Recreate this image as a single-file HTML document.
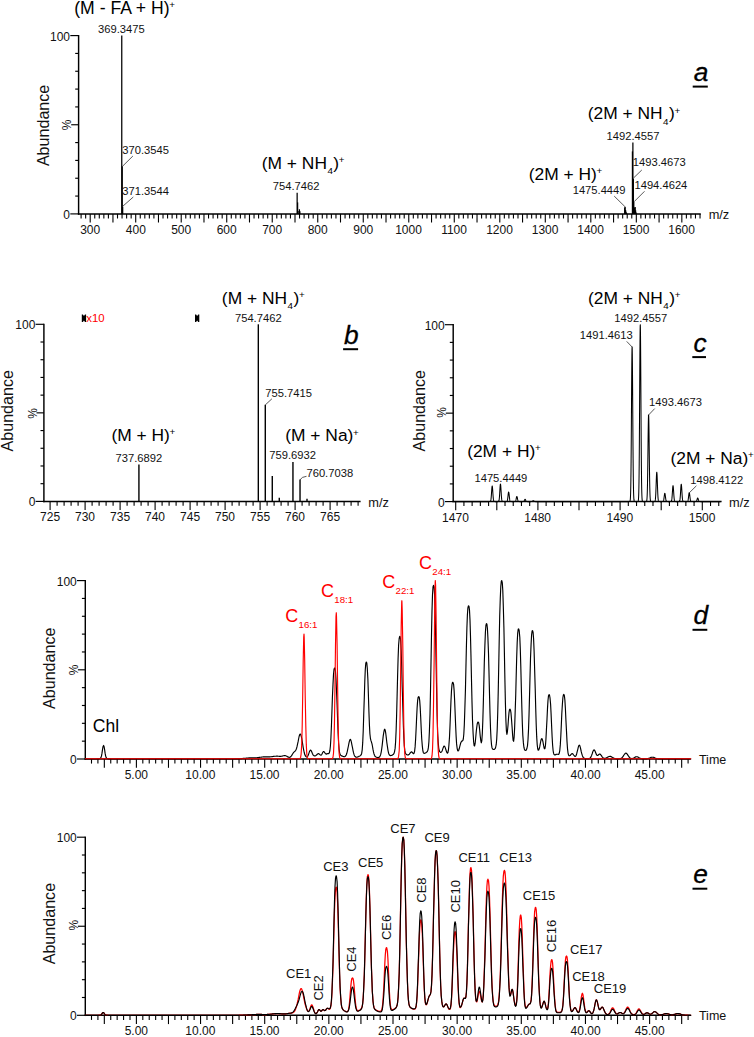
<!DOCTYPE html>
<html><head><meta charset="utf-8"><style>
html,body{margin:0;padding:0;background:#fff;}
svg{display:block;font-family:"Liberation Sans", sans-serif;}
</style></head><body>
<svg width="754" height="1037" viewBox="0 0 754 1037">
<rect width="754" height="1037" fill="#fff"/>
<line x1="78.6" y1="35" x2="78.6" y2="214.65" stroke="#000" stroke-width="1.45"/>
<line x1="70.3" y1="213.9" x2="78.6" y2="213.9" stroke="#000" stroke-width="1.15"/>
<line x1="75.2" y1="196.07" x2="78.6" y2="196.07" stroke="#000" stroke-width="1.15"/>
<line x1="75.2" y1="178.24" x2="78.6" y2="178.24" stroke="#000" stroke-width="1.15"/>
<line x1="75.2" y1="160.41" x2="78.6" y2="160.41" stroke="#000" stroke-width="1.15"/>
<line x1="75.2" y1="142.58" x2="78.6" y2="142.58" stroke="#000" stroke-width="1.15"/>
<line x1="71.2" y1="124.75" x2="78.6" y2="124.75" stroke="#000" stroke-width="1.15"/>
<line x1="75.2" y1="106.92" x2="78.6" y2="106.92" stroke="#000" stroke-width="1.15"/>
<line x1="75.2" y1="89.09" x2="78.6" y2="89.09" stroke="#000" stroke-width="1.15"/>
<line x1="75.2" y1="71.26" x2="78.6" y2="71.26" stroke="#000" stroke-width="1.15"/>
<line x1="75.2" y1="53.43" x2="78.6" y2="53.43" stroke="#000" stroke-width="1.15"/>
<line x1="70.3" y1="35.6" x2="78.6" y2="35.6" stroke="#000" stroke-width="1.15"/>
<text x="70.06" y="40.5" font-size="12" text-anchor="end" fill="#111" >100</text>
<text x="70.03" y="218.8" font-size="12" text-anchor="end" fill="#111" >0</text>
<text transform="translate(70.9,130.34) rotate(-90)" x="0" y="0" font-size="12" fill="#111">%</text>
<text transform="translate(49.1,166.12) rotate(-90)" x="0" y="0" font-size="16.1" fill="#111">Abundance</text>
<line x1="77.9" y1="213.9" x2="700.8" y2="213.9" stroke="#000" stroke-width="1.5"/>
<line x1="81.1" y1="213.9" x2="81.1" y2="218.5" stroke="#000" stroke-width="1.1"/>
<line x1="85.65" y1="213.9" x2="85.65" y2="218.5" stroke="#000" stroke-width="1.1"/>
<line x1="90.2" y1="213.9" x2="90.2" y2="222.5" stroke="#000" stroke-width="1.1"/>
<line x1="94.75" y1="213.9" x2="94.75" y2="218.5" stroke="#000" stroke-width="1.1"/>
<line x1="99.3" y1="213.9" x2="99.3" y2="218.5" stroke="#000" stroke-width="1.1"/>
<line x1="103.85" y1="213.9" x2="103.85" y2="218.5" stroke="#000" stroke-width="1.1"/>
<line x1="108.4" y1="213.9" x2="108.4" y2="218.5" stroke="#000" stroke-width="1.1"/>
<line x1="112.95" y1="213.9" x2="112.95" y2="222.5" stroke="#000" stroke-width="1.1"/>
<line x1="117.51" y1="213.9" x2="117.51" y2="218.5" stroke="#000" stroke-width="1.1"/>
<line x1="122.06" y1="213.9" x2="122.06" y2="218.5" stroke="#000" stroke-width="1.1"/>
<line x1="126.61" y1="213.9" x2="126.61" y2="218.5" stroke="#000" stroke-width="1.1"/>
<line x1="131.16" y1="213.9" x2="131.16" y2="218.5" stroke="#000" stroke-width="1.1"/>
<line x1="135.71" y1="213.9" x2="135.71" y2="222.5" stroke="#000" stroke-width="1.1"/>
<line x1="140.26" y1="213.9" x2="140.26" y2="218.5" stroke="#000" stroke-width="1.1"/>
<line x1="144.81" y1="213.9" x2="144.81" y2="218.5" stroke="#000" stroke-width="1.1"/>
<line x1="149.36" y1="213.9" x2="149.36" y2="218.5" stroke="#000" stroke-width="1.1"/>
<line x1="153.91" y1="213.9" x2="153.91" y2="218.5" stroke="#000" stroke-width="1.1"/>
<line x1="158.47" y1="213.9" x2="158.47" y2="222.5" stroke="#000" stroke-width="1.1"/>
<line x1="163.02" y1="213.9" x2="163.02" y2="218.5" stroke="#000" stroke-width="1.1"/>
<line x1="167.57" y1="213.9" x2="167.57" y2="218.5" stroke="#000" stroke-width="1.1"/>
<line x1="172.12" y1="213.9" x2="172.12" y2="218.5" stroke="#000" stroke-width="1.1"/>
<line x1="176.67" y1="213.9" x2="176.67" y2="218.5" stroke="#000" stroke-width="1.1"/>
<line x1="181.22" y1="213.9" x2="181.22" y2="222.5" stroke="#000" stroke-width="1.1"/>
<line x1="185.77" y1="213.9" x2="185.77" y2="218.5" stroke="#000" stroke-width="1.1"/>
<line x1="190.32" y1="213.9" x2="190.32" y2="218.5" stroke="#000" stroke-width="1.1"/>
<line x1="194.87" y1="213.9" x2="194.87" y2="218.5" stroke="#000" stroke-width="1.1"/>
<line x1="199.42" y1="213.9" x2="199.42" y2="218.5" stroke="#000" stroke-width="1.1"/>
<line x1="203.98" y1="213.9" x2="203.98" y2="222.5" stroke="#000" stroke-width="1.1"/>
<line x1="208.53" y1="213.9" x2="208.53" y2="218.5" stroke="#000" stroke-width="1.1"/>
<line x1="213.08" y1="213.9" x2="213.08" y2="218.5" stroke="#000" stroke-width="1.1"/>
<line x1="217.63" y1="213.9" x2="217.63" y2="218.5" stroke="#000" stroke-width="1.1"/>
<line x1="222.18" y1="213.9" x2="222.18" y2="218.5" stroke="#000" stroke-width="1.1"/>
<line x1="226.73" y1="213.9" x2="226.73" y2="222.5" stroke="#000" stroke-width="1.1"/>
<line x1="231.28" y1="213.9" x2="231.28" y2="218.5" stroke="#000" stroke-width="1.1"/>
<line x1="235.83" y1="213.9" x2="235.83" y2="218.5" stroke="#000" stroke-width="1.1"/>
<line x1="240.38" y1="213.9" x2="240.38" y2="218.5" stroke="#000" stroke-width="1.1"/>
<line x1="244.93" y1="213.9" x2="244.93" y2="218.5" stroke="#000" stroke-width="1.1"/>
<line x1="249.49" y1="213.9" x2="249.49" y2="222.5" stroke="#000" stroke-width="1.1"/>
<line x1="254.04" y1="213.9" x2="254.04" y2="218.5" stroke="#000" stroke-width="1.1"/>
<line x1="258.59" y1="213.9" x2="258.59" y2="218.5" stroke="#000" stroke-width="1.1"/>
<line x1="263.14" y1="213.9" x2="263.14" y2="218.5" stroke="#000" stroke-width="1.1"/>
<line x1="267.69" y1="213.9" x2="267.69" y2="218.5" stroke="#000" stroke-width="1.1"/>
<line x1="272.24" y1="213.9" x2="272.24" y2="222.5" stroke="#000" stroke-width="1.1"/>
<line x1="276.79" y1="213.9" x2="276.79" y2="218.5" stroke="#000" stroke-width="1.1"/>
<line x1="281.34" y1="213.9" x2="281.34" y2="218.5" stroke="#000" stroke-width="1.1"/>
<line x1="285.89" y1="213.9" x2="285.89" y2="218.5" stroke="#000" stroke-width="1.1"/>
<line x1="290.44" y1="213.9" x2="290.44" y2="218.5" stroke="#000" stroke-width="1.1"/>
<line x1="295" y1="213.9" x2="295" y2="222.5" stroke="#000" stroke-width="1.1"/>
<line x1="299.55" y1="213.9" x2="299.55" y2="218.5" stroke="#000" stroke-width="1.1"/>
<line x1="304.1" y1="213.9" x2="304.1" y2="218.5" stroke="#000" stroke-width="1.1"/>
<line x1="308.65" y1="213.9" x2="308.65" y2="218.5" stroke="#000" stroke-width="1.1"/>
<line x1="313.2" y1="213.9" x2="313.2" y2="218.5" stroke="#000" stroke-width="1.1"/>
<line x1="317.75" y1="213.9" x2="317.75" y2="222.5" stroke="#000" stroke-width="1.1"/>
<line x1="322.3" y1="213.9" x2="322.3" y2="218.5" stroke="#000" stroke-width="1.1"/>
<line x1="326.85" y1="213.9" x2="326.85" y2="218.5" stroke="#000" stroke-width="1.1"/>
<line x1="331.4" y1="213.9" x2="331.4" y2="218.5" stroke="#000" stroke-width="1.1"/>
<line x1="335.95" y1="213.9" x2="335.95" y2="218.5" stroke="#000" stroke-width="1.1"/>
<line x1="340.5" y1="213.9" x2="340.5" y2="222.5" stroke="#000" stroke-width="1.1"/>
<line x1="345.06" y1="213.9" x2="345.06" y2="218.5" stroke="#000" stroke-width="1.1"/>
<line x1="349.61" y1="213.9" x2="349.61" y2="218.5" stroke="#000" stroke-width="1.1"/>
<line x1="354.16" y1="213.9" x2="354.16" y2="218.5" stroke="#000" stroke-width="1.1"/>
<line x1="358.71" y1="213.9" x2="358.71" y2="218.5" stroke="#000" stroke-width="1.1"/>
<line x1="363.26" y1="213.9" x2="363.26" y2="222.5" stroke="#000" stroke-width="1.1"/>
<line x1="367.81" y1="213.9" x2="367.81" y2="218.5" stroke="#000" stroke-width="1.1"/>
<line x1="372.36" y1="213.9" x2="372.36" y2="218.5" stroke="#000" stroke-width="1.1"/>
<line x1="376.91" y1="213.9" x2="376.91" y2="218.5" stroke="#000" stroke-width="1.1"/>
<line x1="381.46" y1="213.9" x2="381.46" y2="218.5" stroke="#000" stroke-width="1.1"/>
<line x1="386.01" y1="213.9" x2="386.01" y2="222.5" stroke="#000" stroke-width="1.1"/>
<line x1="390.57" y1="213.9" x2="390.57" y2="218.5" stroke="#000" stroke-width="1.1"/>
<line x1="395.12" y1="213.9" x2="395.12" y2="218.5" stroke="#000" stroke-width="1.1"/>
<line x1="399.67" y1="213.9" x2="399.67" y2="218.5" stroke="#000" stroke-width="1.1"/>
<line x1="404.22" y1="213.9" x2="404.22" y2="218.5" stroke="#000" stroke-width="1.1"/>
<line x1="408.77" y1="213.9" x2="408.77" y2="222.5" stroke="#000" stroke-width="1.1"/>
<line x1="413.32" y1="213.9" x2="413.32" y2="218.5" stroke="#000" stroke-width="1.1"/>
<line x1="417.87" y1="213.9" x2="417.87" y2="218.5" stroke="#000" stroke-width="1.1"/>
<line x1="422.42" y1="213.9" x2="422.42" y2="218.5" stroke="#000" stroke-width="1.1"/>
<line x1="426.97" y1="213.9" x2="426.97" y2="218.5" stroke="#000" stroke-width="1.1"/>
<line x1="431.52" y1="213.9" x2="431.52" y2="222.5" stroke="#000" stroke-width="1.1"/>
<line x1="436.08" y1="213.9" x2="436.08" y2="218.5" stroke="#000" stroke-width="1.1"/>
<line x1="440.63" y1="213.9" x2="440.63" y2="218.5" stroke="#000" stroke-width="1.1"/>
<line x1="445.18" y1="213.9" x2="445.18" y2="218.5" stroke="#000" stroke-width="1.1"/>
<line x1="449.73" y1="213.9" x2="449.73" y2="218.5" stroke="#000" stroke-width="1.1"/>
<line x1="454.28" y1="213.9" x2="454.28" y2="222.5" stroke="#000" stroke-width="1.1"/>
<line x1="458.83" y1="213.9" x2="458.83" y2="218.5" stroke="#000" stroke-width="1.1"/>
<line x1="463.38" y1="213.9" x2="463.38" y2="218.5" stroke="#000" stroke-width="1.1"/>
<line x1="467.93" y1="213.9" x2="467.93" y2="218.5" stroke="#000" stroke-width="1.1"/>
<line x1="472.48" y1="213.9" x2="472.48" y2="218.5" stroke="#000" stroke-width="1.1"/>
<line x1="477.03" y1="213.9" x2="477.03" y2="222.5" stroke="#000" stroke-width="1.1"/>
<line x1="481.59" y1="213.9" x2="481.59" y2="218.5" stroke="#000" stroke-width="1.1"/>
<line x1="486.14" y1="213.9" x2="486.14" y2="218.5" stroke="#000" stroke-width="1.1"/>
<line x1="490.69" y1="213.9" x2="490.69" y2="218.5" stroke="#000" stroke-width="1.1"/>
<line x1="495.24" y1="213.9" x2="495.24" y2="218.5" stroke="#000" stroke-width="1.1"/>
<line x1="499.79" y1="213.9" x2="499.79" y2="222.5" stroke="#000" stroke-width="1.1"/>
<line x1="504.34" y1="213.9" x2="504.34" y2="218.5" stroke="#000" stroke-width="1.1"/>
<line x1="508.89" y1="213.9" x2="508.89" y2="218.5" stroke="#000" stroke-width="1.1"/>
<line x1="513.44" y1="213.9" x2="513.44" y2="218.5" stroke="#000" stroke-width="1.1"/>
<line x1="517.99" y1="213.9" x2="517.99" y2="218.5" stroke="#000" stroke-width="1.1"/>
<line x1="522.55" y1="213.9" x2="522.55" y2="222.5" stroke="#000" stroke-width="1.1"/>
<line x1="527.1" y1="213.9" x2="527.1" y2="218.5" stroke="#000" stroke-width="1.1"/>
<line x1="531.65" y1="213.9" x2="531.65" y2="218.5" stroke="#000" stroke-width="1.1"/>
<line x1="536.2" y1="213.9" x2="536.2" y2="218.5" stroke="#000" stroke-width="1.1"/>
<line x1="540.75" y1="213.9" x2="540.75" y2="218.5" stroke="#000" stroke-width="1.1"/>
<line x1="545.3" y1="213.9" x2="545.3" y2="222.5" stroke="#000" stroke-width="1.1"/>
<line x1="549.85" y1="213.9" x2="549.85" y2="218.5" stroke="#000" stroke-width="1.1"/>
<line x1="554.4" y1="213.9" x2="554.4" y2="218.5" stroke="#000" stroke-width="1.1"/>
<line x1="558.95" y1="213.9" x2="558.95" y2="218.5" stroke="#000" stroke-width="1.1"/>
<line x1="563.5" y1="213.9" x2="563.5" y2="218.5" stroke="#000" stroke-width="1.1"/>
<line x1="568.06" y1="213.9" x2="568.06" y2="222.5" stroke="#000" stroke-width="1.1"/>
<line x1="572.61" y1="213.9" x2="572.61" y2="218.5" stroke="#000" stroke-width="1.1"/>
<line x1="577.16" y1="213.9" x2="577.16" y2="218.5" stroke="#000" stroke-width="1.1"/>
<line x1="581.71" y1="213.9" x2="581.71" y2="218.5" stroke="#000" stroke-width="1.1"/>
<line x1="586.26" y1="213.9" x2="586.26" y2="218.5" stroke="#000" stroke-width="1.1"/>
<line x1="590.81" y1="213.9" x2="590.81" y2="222.5" stroke="#000" stroke-width="1.1"/>
<line x1="595.36" y1="213.9" x2="595.36" y2="218.5" stroke="#000" stroke-width="1.1"/>
<line x1="599.91" y1="213.9" x2="599.91" y2="218.5" stroke="#000" stroke-width="1.1"/>
<line x1="604.46" y1="213.9" x2="604.46" y2="218.5" stroke="#000" stroke-width="1.1"/>
<line x1="609.01" y1="213.9" x2="609.01" y2="218.5" stroke="#000" stroke-width="1.1"/>
<line x1="613.57" y1="213.9" x2="613.57" y2="222.5" stroke="#000" stroke-width="1.1"/>
<line x1="618.12" y1="213.9" x2="618.12" y2="218.5" stroke="#000" stroke-width="1.1"/>
<line x1="622.67" y1="213.9" x2="622.67" y2="218.5" stroke="#000" stroke-width="1.1"/>
<line x1="627.22" y1="213.9" x2="627.22" y2="218.5" stroke="#000" stroke-width="1.1"/>
<line x1="631.77" y1="213.9" x2="631.77" y2="218.5" stroke="#000" stroke-width="1.1"/>
<line x1="636.32" y1="213.9" x2="636.32" y2="222.5" stroke="#000" stroke-width="1.1"/>
<line x1="640.87" y1="213.9" x2="640.87" y2="218.5" stroke="#000" stroke-width="1.1"/>
<line x1="645.42" y1="213.9" x2="645.42" y2="218.5" stroke="#000" stroke-width="1.1"/>
<line x1="649.97" y1="213.9" x2="649.97" y2="218.5" stroke="#000" stroke-width="1.1"/>
<line x1="654.52" y1="213.9" x2="654.52" y2="218.5" stroke="#000" stroke-width="1.1"/>
<line x1="659.08" y1="213.9" x2="659.08" y2="222.5" stroke="#000" stroke-width="1.1"/>
<line x1="663.63" y1="213.9" x2="663.63" y2="218.5" stroke="#000" stroke-width="1.1"/>
<line x1="668.18" y1="213.9" x2="668.18" y2="218.5" stroke="#000" stroke-width="1.1"/>
<line x1="672.73" y1="213.9" x2="672.73" y2="218.5" stroke="#000" stroke-width="1.1"/>
<line x1="677.28" y1="213.9" x2="677.28" y2="218.5" stroke="#000" stroke-width="1.1"/>
<line x1="681.83" y1="213.9" x2="681.83" y2="222.5" stroke="#000" stroke-width="1.1"/>
<line x1="686.38" y1="213.9" x2="686.38" y2="218.5" stroke="#000" stroke-width="1.1"/>
<line x1="690.93" y1="213.9" x2="690.93" y2="218.5" stroke="#000" stroke-width="1.1"/>
<line x1="695.48" y1="213.9" x2="695.48" y2="218.5" stroke="#000" stroke-width="1.1"/>
<line x1="700.03" y1="213.9" x2="700.03" y2="218.5" stroke="#000" stroke-width="1.1"/>
<text x="80.18" y="233.9" font-size="12" text-anchor="start" fill="#111" >300</text>
<text x="125.81" y="233.9" font-size="12" text-anchor="start" fill="#111" >400</text>
<text x="171.2" y="233.9" font-size="12" text-anchor="start" fill="#111" >500</text>
<text x="216.65" y="233.9" font-size="12" text-anchor="start" fill="#111" >600</text>
<text x="262.16" y="233.9" font-size="12" text-anchor="start" fill="#111" >700</text>
<text x="307.7" y="233.9" font-size="12" text-anchor="start" fill="#111" >800</text>
<text x="353.21" y="233.9" font-size="12" text-anchor="start" fill="#111" >900</text>
<text x="395.18" y="233.9" font-size="12" text-anchor="start" fill="#111" >1000</text>
<text x="441.14" y="233.9" font-size="12" text-anchor="start" fill="#111" >1100</text>
<text x="486.2" y="233.9" font-size="12" text-anchor="start" fill="#111" >1200</text>
<text x="531.71" y="233.9" font-size="12" text-anchor="start" fill="#111" >1300</text>
<text x="577.22" y="233.9" font-size="12" text-anchor="start" fill="#111" >1400</text>
<text x="622.73" y="233.9" font-size="12" text-anchor="start" fill="#111" >1500</text>
<text x="668.24" y="233.9" font-size="12" text-anchor="start" fill="#111" >1600</text>
<text x="708.67" y="218.9" font-size="12.8" text-anchor="start" fill="#111" >m/z</text>
<line x1="121.76" y1="213.9" x2="121.76" y2="35.6" stroke="#000" stroke-width="1.25"/>
<line x1="122.22" y1="213.9" x2="122.22" y2="166.29" stroke="#000" stroke-width="1.25"/>
<line x1="122.67" y1="213.9" x2="122.67" y2="206.77" stroke="#000" stroke-width="1.25"/>
<line x1="297.15" y1="213.9" x2="297.15" y2="192.86" stroke="#000" stroke-width="1.25"/>
<line x1="297.61" y1="213.9" x2="297.61" y2="202.41" stroke="#000" stroke-width="1.25"/>
<line x1="298.06" y1="213.9" x2="298.06" y2="210.89" stroke="#000" stroke-width="1.25"/>
<line x1="299.41" y1="213.9" x2="299.41" y2="209.23" stroke="#000" stroke-width="1.25"/>
<line x1="299.87" y1="213.9" x2="299.87" y2="211.29" stroke="#000" stroke-width="1.25"/>
<line x1="624.69" y1="213.9" x2="624.69" y2="207.61" stroke="#000" stroke-width="1.25"/>
<line x1="625.14" y1="213.9" x2="625.14" y2="206.82" stroke="#000" stroke-width="1.25"/>
<line x1="625.6" y1="213.9" x2="625.6" y2="210.04" stroke="#000" stroke-width="1.25"/>
<line x1="626.05" y1="213.9" x2="626.05" y2="211.83" stroke="#000" stroke-width="1.25"/>
<line x1="626.51" y1="213.9" x2="626.51" y2="212.97" stroke="#000" stroke-width="1.25"/>
<line x1="632.43" y1="213.9" x2="632.43" y2="151.41" stroke="#000" stroke-width="1.25"/>
<line x1="632.89" y1="213.9" x2="632.89" y2="142.4" stroke="#000" stroke-width="1.25"/>
<line x1="633.35" y1="213.9" x2="633.35" y2="178.87" stroke="#000" stroke-width="1.25"/>
<line x1="633.8" y1="213.9" x2="633.8" y2="202.03" stroke="#000" stroke-width="1.25"/>
<line x1="634.24" y1="213.9" x2="634.24" y2="210.54" stroke="#000" stroke-width="1.25"/>
<line x1="634.7" y1="213.9" x2="634.7" y2="207.47" stroke="#000" stroke-width="1.25"/>
<line x1="635.15" y1="213.9" x2="635.15" y2="206.89" stroke="#000" stroke-width="1.25"/>
<line x1="635.6" y1="213.9" x2="635.6" y2="210.33" stroke="#000" stroke-width="1.25"/>
<line x1="636.07" y1="213.9" x2="636.07" y2="212.47" stroke="#000" stroke-width="1.25"/>
<text x="98.05" y="33.3" font-size="11.2" text-anchor="start" fill="#111" >369.3475</text>
<text x="122.35" y="153.6" font-size="11.2" text-anchor="start" fill="#111" >370.3545</text>
<line x1="122.6" y1="166.2" x2="132.9" y2="156" stroke="#222" stroke-width="0.75"/>
<text x="122.35" y="194.7" font-size="11.2" text-anchor="start" fill="#111" >371.3544</text>
<line x1="122.6" y1="206.4" x2="133.3" y2="197" stroke="#222" stroke-width="0.75"/>
<text x="272.84" y="190.2" font-size="11.2" text-anchor="start" fill="#111" >754.7462</text>
<text x="606.56" y="139.8" font-size="11.2" text-anchor="start" fill="#111" >1492.4557</text>
<text x="632.86" y="166" font-size="11.2" text-anchor="start" fill="#111" >1493.4673</text>
<line x1="633.5" y1="178" x2="641.8" y2="170" stroke="#222" stroke-width="0.75"/>
<text x="634.46" y="189.1" font-size="11.2" text-anchor="start" fill="#111" >1494.4624</text>
<line x1="634" y1="201.8" x2="644.5" y2="191.3" stroke="#222" stroke-width="0.75"/>
<text x="572.66" y="193.9" font-size="11.2" text-anchor="start" fill="#111" >1475.4449</text>
<line x1="614.2" y1="196.1" x2="624.9" y2="206.6" stroke="#222" stroke-width="0.75"/>
<text x="74.24" y="13.75" font-size="17.6" fill="#000" xml:space="preserve">(M - FA + H)<tspan font-size="9.8" dx="-0.3" dy="-5.8">+</tspan></text>
<text x="261.76" y="168.8" font-size="17.4" fill="#000" xml:space="preserve">(M + NH<tspan font-size="9.8" dx="0.4" dy="5.6">4</tspan><tspan dx="0.5" dy="-5.6">)</tspan><tspan font-size="9.8" dx="-0.3" dy="-5.8">+</tspan></text>
<text x="587.76" y="119.4" font-size="17.4" fill="#000" xml:space="preserve">(2M + NH<tspan font-size="9.8" dx="0.4" dy="5.6">4</tspan><tspan dx="0.5" dy="-5.6">)</tspan><tspan font-size="9.8" dx="-0.3" dy="-5.8">+</tspan></text>
<text x="528.76" y="179.8" font-size="17.4" fill="#000" xml:space="preserve">(2M + H)<tspan font-size="9.8" dx="-0.3" dy="-5.8">+</tspan></text>
<text x="693.77" y="80.6" font-size="26.3" font-style="italic" fill="#000" stroke="#000" stroke-width="0.3">a</text>
<line x1="692.7" y1="86.6" x2="707.8" y2="86.6" stroke="#000" stroke-width="2.0"/>
<line x1="43.9" y1="323.7" x2="43.9" y2="502.15" stroke="#000" stroke-width="1.45"/>
<line x1="35.6" y1="501.4" x2="43.9" y2="501.4" stroke="#000" stroke-width="1.15"/>
<line x1="40.5" y1="483.69" x2="43.9" y2="483.69" stroke="#000" stroke-width="1.15"/>
<line x1="40.5" y1="465.98" x2="43.9" y2="465.98" stroke="#000" stroke-width="1.15"/>
<line x1="40.5" y1="448.27" x2="43.9" y2="448.27" stroke="#000" stroke-width="1.15"/>
<line x1="40.5" y1="430.56" x2="43.9" y2="430.56" stroke="#000" stroke-width="1.15"/>
<line x1="36.5" y1="412.85" x2="43.9" y2="412.85" stroke="#000" stroke-width="1.15"/>
<line x1="40.5" y1="395.14" x2="43.9" y2="395.14" stroke="#000" stroke-width="1.15"/>
<line x1="40.5" y1="377.43" x2="43.9" y2="377.43" stroke="#000" stroke-width="1.15"/>
<line x1="40.5" y1="359.72" x2="43.9" y2="359.72" stroke="#000" stroke-width="1.15"/>
<line x1="40.5" y1="342.01" x2="43.9" y2="342.01" stroke="#000" stroke-width="1.15"/>
<line x1="35.6" y1="324.3" x2="43.9" y2="324.3" stroke="#000" stroke-width="1.15"/>
<text x="35.36" y="329.2" font-size="12" text-anchor="end" fill="#111" >100</text>
<text x="35.33" y="506.3" font-size="12" text-anchor="end" fill="#111" >0</text>
<text transform="translate(37,418.64) rotate(-90)" x="0" y="0" font-size="12" fill="#111">%</text>
<text transform="translate(13.2,451.47) rotate(-90)" x="0" y="0" font-size="16.1" fill="#111">Abundance</text>
<line x1="43.2" y1="501.4" x2="360.6" y2="501.4" stroke="#000" stroke-width="1.5"/>
<line x1="50.1" y1="501.4" x2="50.1" y2="510" stroke="#000" stroke-width="1.1"/>
<line x1="57.1" y1="501.4" x2="57.1" y2="505.8" stroke="#000" stroke-width="1.1"/>
<line x1="64.1" y1="501.4" x2="64.1" y2="505.8" stroke="#000" stroke-width="1.1"/>
<line x1="71.1" y1="501.4" x2="71.1" y2="505.8" stroke="#000" stroke-width="1.1"/>
<line x1="78.1" y1="501.4" x2="78.1" y2="505.8" stroke="#000" stroke-width="1.1"/>
<line x1="85.1" y1="501.4" x2="85.1" y2="510" stroke="#000" stroke-width="1.1"/>
<line x1="92.1" y1="501.4" x2="92.1" y2="505.8" stroke="#000" stroke-width="1.1"/>
<line x1="99.1" y1="501.4" x2="99.1" y2="505.8" stroke="#000" stroke-width="1.1"/>
<line x1="106.1" y1="501.4" x2="106.1" y2="505.8" stroke="#000" stroke-width="1.1"/>
<line x1="113.1" y1="501.4" x2="113.1" y2="505.8" stroke="#000" stroke-width="1.1"/>
<line x1="120.1" y1="501.4" x2="120.1" y2="510" stroke="#000" stroke-width="1.1"/>
<line x1="127.1" y1="501.4" x2="127.1" y2="505.8" stroke="#000" stroke-width="1.1"/>
<line x1="134.1" y1="501.4" x2="134.1" y2="505.8" stroke="#000" stroke-width="1.1"/>
<line x1="141.1" y1="501.4" x2="141.1" y2="505.8" stroke="#000" stroke-width="1.1"/>
<line x1="148.1" y1="501.4" x2="148.1" y2="505.8" stroke="#000" stroke-width="1.1"/>
<line x1="155.1" y1="501.4" x2="155.1" y2="510" stroke="#000" stroke-width="1.1"/>
<line x1="162.1" y1="501.4" x2="162.1" y2="505.8" stroke="#000" stroke-width="1.1"/>
<line x1="169.1" y1="501.4" x2="169.1" y2="505.8" stroke="#000" stroke-width="1.1"/>
<line x1="176.1" y1="501.4" x2="176.1" y2="505.8" stroke="#000" stroke-width="1.1"/>
<line x1="183.1" y1="501.4" x2="183.1" y2="505.8" stroke="#000" stroke-width="1.1"/>
<line x1="190.1" y1="501.4" x2="190.1" y2="510" stroke="#000" stroke-width="1.1"/>
<line x1="197.1" y1="501.4" x2="197.1" y2="505.8" stroke="#000" stroke-width="1.1"/>
<line x1="204.1" y1="501.4" x2="204.1" y2="505.8" stroke="#000" stroke-width="1.1"/>
<line x1="211.1" y1="501.4" x2="211.1" y2="505.8" stroke="#000" stroke-width="1.1"/>
<line x1="218.1" y1="501.4" x2="218.1" y2="505.8" stroke="#000" stroke-width="1.1"/>
<line x1="225.1" y1="501.4" x2="225.1" y2="510" stroke="#000" stroke-width="1.1"/>
<line x1="232.1" y1="501.4" x2="232.1" y2="505.8" stroke="#000" stroke-width="1.1"/>
<line x1="239.1" y1="501.4" x2="239.1" y2="505.8" stroke="#000" stroke-width="1.1"/>
<line x1="246.1" y1="501.4" x2="246.1" y2="505.8" stroke="#000" stroke-width="1.1"/>
<line x1="253.1" y1="501.4" x2="253.1" y2="505.8" stroke="#000" stroke-width="1.1"/>
<line x1="260.1" y1="501.4" x2="260.1" y2="510" stroke="#000" stroke-width="1.1"/>
<line x1="267.1" y1="501.4" x2="267.1" y2="505.8" stroke="#000" stroke-width="1.1"/>
<line x1="274.1" y1="501.4" x2="274.1" y2="505.8" stroke="#000" stroke-width="1.1"/>
<line x1="281.1" y1="501.4" x2="281.1" y2="505.8" stroke="#000" stroke-width="1.1"/>
<line x1="288.1" y1="501.4" x2="288.1" y2="505.8" stroke="#000" stroke-width="1.1"/>
<line x1="295.1" y1="501.4" x2="295.1" y2="510" stroke="#000" stroke-width="1.1"/>
<line x1="302.1" y1="501.4" x2="302.1" y2="505.8" stroke="#000" stroke-width="1.1"/>
<line x1="309.1" y1="501.4" x2="309.1" y2="505.8" stroke="#000" stroke-width="1.1"/>
<line x1="316.1" y1="501.4" x2="316.1" y2="505.8" stroke="#000" stroke-width="1.1"/>
<line x1="323.1" y1="501.4" x2="323.1" y2="505.8" stroke="#000" stroke-width="1.1"/>
<line x1="330.1" y1="501.4" x2="330.1" y2="510" stroke="#000" stroke-width="1.1"/>
<line x1="337.1" y1="501.4" x2="337.1" y2="505.8" stroke="#000" stroke-width="1.1"/>
<line x1="344.1" y1="501.4" x2="344.1" y2="505.8" stroke="#000" stroke-width="1.1"/>
<line x1="351.1" y1="501.4" x2="351.1" y2="505.8" stroke="#000" stroke-width="1.1"/>
<line x1="358.1" y1="501.4" x2="358.1" y2="505.8" stroke="#000" stroke-width="1.1"/>
<text x="40.05" y="521.4" font-size="12" text-anchor="start" fill="#111" >725</text>
<text x="75.02" y="521.4" font-size="12" text-anchor="start" fill="#111" >730</text>
<text x="110.05" y="521.4" font-size="12" text-anchor="start" fill="#111" >735</text>
<text x="145.02" y="521.4" font-size="12" text-anchor="start" fill="#111" >740</text>
<text x="180.05" y="521.4" font-size="12" text-anchor="start" fill="#111" >745</text>
<text x="215.02" y="521.4" font-size="12" text-anchor="start" fill="#111" >750</text>
<text x="250.05" y="521.4" font-size="12" text-anchor="start" fill="#111" >755</text>
<text x="285.02" y="521.4" font-size="12" text-anchor="start" fill="#111" >760</text>
<text x="320.05" y="521.4" font-size="12" text-anchor="start" fill="#111" >765</text>
<text x="368.27" y="506.5" font-size="12.8" text-anchor="start" fill="#111" >m/z</text>
<line x1="138.92" y1="501.4" x2="138.92" y2="464.56" stroke="#000" stroke-width="1.4"/>
<line x1="258.32" y1="501.4" x2="258.32" y2="324.3" stroke="#000" stroke-width="1.4"/>
<line x1="265.29" y1="501.4" x2="265.29" y2="404.7" stroke="#000" stroke-width="1.4"/>
<line x1="272.28" y1="501.4" x2="272.28" y2="476.07" stroke="#000" stroke-width="1.4"/>
<line x1="279.28" y1="501.4" x2="279.28" y2="497.86" stroke="#000" stroke-width="1.4"/>
<line x1="292.95" y1="501.4" x2="292.95" y2="462.08" stroke="#000" stroke-width="1.4"/>
<line x1="300.03" y1="501.4" x2="300.03" y2="479.44" stroke="#000" stroke-width="1.4"/>
<line x1="307" y1="501.4" x2="307" y2="498.74" stroke="#000" stroke-width="1.4"/>
<text x="234.94" y="321.9" font-size="11.2" text-anchor="start" fill="#111" >754.7462</text>
<text x="265.34" y="396.7" font-size="11.2" text-anchor="start" fill="#111" >755.7415</text>
<line x1="265.3" y1="404.9" x2="271.9" y2="398.8" stroke="#222" stroke-width="0.75"/>
<text x="115.54" y="462.4" font-size="11.2" text-anchor="start" fill="#111" >737.6892</text>
<text x="269.34" y="459.3" font-size="11.2" text-anchor="start" fill="#111" >759.6932</text>
<text x="306.44" y="476.8" font-size="11.2" text-anchor="start" fill="#111" >760.7038</text>
<polyline points="300,479.8 302.5,477.4 306.5,476.3" fill="none" stroke="#222" stroke-width="0.75"/>
<text x="221.86" y="303.6" font-size="17.4" fill="#000" xml:space="preserve">(M + NH<tspan font-size="9.8" dx="0.4" dy="5.6">4</tspan><tspan dx="0.5" dy="-5.6">)</tspan><tspan font-size="9.8" dx="-0.3" dy="-5.8">+</tspan></text>
<text x="111.46" y="441" font-size="17.4" fill="#000" xml:space="preserve">(M + H)<tspan font-size="9.8" dx="-0.3" dy="-5.8">+</tspan></text>
<text x="285.26" y="441.3" font-size="17.4" fill="#000" xml:space="preserve">(M + Na)<tspan font-size="9.8" dx="-0.3" dy="-5.8">+</tspan></text>
<text x="343.91" y="343.8" font-size="26.3" font-style="italic" fill="#000" stroke="#000" stroke-width="0.3">b</text>
<line x1="343.1" y1="349.2" x2="358.1" y2="349.2" stroke="#000" stroke-width="2.0"/>
<path d="M81.8,314.6 L82.90,314.6 L83.95,316.10 L85.00,314.6 L86.1,314.6 L86.1,321.9 L85.00,321.9 L83.95,320.40 L82.90,321.9 L81.8,321.9 z" fill="#000"/>
<text x="86.29" y="321.9" font-size="11.4" text-anchor="start" fill="#f00" >x10</text>
<path d="M195.0,314.6 L196.10,314.6 L197.15,316.10 L198.20,314.6 L199.3,314.6 L199.3,321.9 L198.20,321.9 L197.15,320.40 L196.10,321.9 L195.0,321.9 z" fill="#000"/>
<line x1="453.2" y1="324.1" x2="453.2" y2="502.35" stroke="#000" stroke-width="1.45"/>
<line x1="444.9" y1="501.6" x2="453.2" y2="501.6" stroke="#000" stroke-width="1.15"/>
<line x1="449.8" y1="483.91" x2="453.2" y2="483.91" stroke="#000" stroke-width="1.15"/>
<line x1="449.8" y1="466.22" x2="453.2" y2="466.22" stroke="#000" stroke-width="1.15"/>
<line x1="449.8" y1="448.53" x2="453.2" y2="448.53" stroke="#000" stroke-width="1.15"/>
<line x1="449.8" y1="430.84" x2="453.2" y2="430.84" stroke="#000" stroke-width="1.15"/>
<line x1="445.8" y1="413.15" x2="453.2" y2="413.15" stroke="#000" stroke-width="1.15"/>
<line x1="449.8" y1="395.46" x2="453.2" y2="395.46" stroke="#000" stroke-width="1.15"/>
<line x1="449.8" y1="377.77" x2="453.2" y2="377.77" stroke="#000" stroke-width="1.15"/>
<line x1="449.8" y1="360.08" x2="453.2" y2="360.08" stroke="#000" stroke-width="1.15"/>
<line x1="449.8" y1="342.39" x2="453.2" y2="342.39" stroke="#000" stroke-width="1.15"/>
<line x1="444.9" y1="324.7" x2="453.2" y2="324.7" stroke="#000" stroke-width="1.15"/>
<text x="444.66" y="329.6" font-size="12" text-anchor="end" fill="#111" >100</text>
<text x="444.63" y="506.5" font-size="12" text-anchor="end" fill="#111" >0</text>
<text transform="translate(445.7,417.64) rotate(-90)" x="0" y="0" font-size="12" fill="#111">%</text>
<text transform="translate(425,451.47) rotate(-90)" x="0" y="0" font-size="16.1" fill="#111">Abundance</text>
<line x1="452.5" y1="501.6" x2="721.6" y2="501.6" stroke="#000" stroke-width="1.5"/>
<line x1="455.7" y1="501.6" x2="455.7" y2="510.2" stroke="#000" stroke-width="1.1"/>
<line x1="463.92" y1="501.6" x2="463.92" y2="506" stroke="#000" stroke-width="1.1"/>
<line x1="472.14" y1="501.6" x2="472.14" y2="506" stroke="#000" stroke-width="1.1"/>
<line x1="480.36" y1="501.6" x2="480.36" y2="506" stroke="#000" stroke-width="1.1"/>
<line x1="488.58" y1="501.6" x2="488.58" y2="506" stroke="#000" stroke-width="1.1"/>
<line x1="496.8" y1="501.6" x2="496.8" y2="510.2" stroke="#000" stroke-width="1.1"/>
<line x1="505.02" y1="501.6" x2="505.02" y2="506" stroke="#000" stroke-width="1.1"/>
<line x1="513.24" y1="501.6" x2="513.24" y2="506" stroke="#000" stroke-width="1.1"/>
<line x1="521.46" y1="501.6" x2="521.46" y2="506" stroke="#000" stroke-width="1.1"/>
<line x1="529.68" y1="501.6" x2="529.68" y2="506" stroke="#000" stroke-width="1.1"/>
<line x1="537.9" y1="501.6" x2="537.9" y2="510.2" stroke="#000" stroke-width="1.1"/>
<line x1="546.12" y1="501.6" x2="546.12" y2="506" stroke="#000" stroke-width="1.1"/>
<line x1="554.34" y1="501.6" x2="554.34" y2="506" stroke="#000" stroke-width="1.1"/>
<line x1="562.56" y1="501.6" x2="562.56" y2="506" stroke="#000" stroke-width="1.1"/>
<line x1="570.78" y1="501.6" x2="570.78" y2="506" stroke="#000" stroke-width="1.1"/>
<line x1="579" y1="501.6" x2="579" y2="510.2" stroke="#000" stroke-width="1.1"/>
<line x1="587.22" y1="501.6" x2="587.22" y2="506" stroke="#000" stroke-width="1.1"/>
<line x1="595.44" y1="501.6" x2="595.44" y2="506" stroke="#000" stroke-width="1.1"/>
<line x1="603.66" y1="501.6" x2="603.66" y2="506" stroke="#000" stroke-width="1.1"/>
<line x1="611.88" y1="501.6" x2="611.88" y2="506" stroke="#000" stroke-width="1.1"/>
<line x1="620.1" y1="501.6" x2="620.1" y2="510.2" stroke="#000" stroke-width="1.1"/>
<line x1="628.32" y1="501.6" x2="628.32" y2="506" stroke="#000" stroke-width="1.1"/>
<line x1="636.54" y1="501.6" x2="636.54" y2="506" stroke="#000" stroke-width="1.1"/>
<line x1="644.76" y1="501.6" x2="644.76" y2="506" stroke="#000" stroke-width="1.1"/>
<line x1="652.98" y1="501.6" x2="652.98" y2="506" stroke="#000" stroke-width="1.1"/>
<line x1="661.2" y1="501.6" x2="661.2" y2="510.2" stroke="#000" stroke-width="1.1"/>
<line x1="669.42" y1="501.6" x2="669.42" y2="506" stroke="#000" stroke-width="1.1"/>
<line x1="677.64" y1="501.6" x2="677.64" y2="506" stroke="#000" stroke-width="1.1"/>
<line x1="685.86" y1="501.6" x2="685.86" y2="506" stroke="#000" stroke-width="1.1"/>
<line x1="694.08" y1="501.6" x2="694.08" y2="506" stroke="#000" stroke-width="1.1"/>
<line x1="702.3" y1="501.6" x2="702.3" y2="510.2" stroke="#000" stroke-width="1.1"/>
<line x1="710.52" y1="501.6" x2="710.52" y2="506" stroke="#000" stroke-width="1.1"/>
<line x1="718.74" y1="501.6" x2="718.74" y2="506" stroke="#000" stroke-width="1.1"/>
<text x="442.11" y="521.8" font-size="12" text-anchor="start" fill="#111" >1470</text>
<text x="524.31" y="521.8" font-size="12" text-anchor="start" fill="#111" >1480</text>
<text x="606.51" y="521.8" font-size="12" text-anchor="start" fill="#111" >1490</text>
<text x="688.71" y="521.8" font-size="12" text-anchor="start" fill="#111" >1500</text>
<text x="729.07" y="506.7" font-size="12.8" text-anchor="start" fill="#111" >m/z</text>
<polyline points="454.00,501.60 455.00,501.60 456.00,501.60 457.00,501.60 458.00,501.60 459.00,501.60 460.00,501.60 461.00,501.60 462.00,501.60 463.00,501.60 464.00,501.60 465.00,501.60 466.00,501.60 467.00,501.60 468.00,501.60 469.00,501.60 470.00,501.60 471.00,501.60 472.00,501.60 473.00,501.60 474.00,501.60 475.00,501.60 476.00,501.60 477.00,501.60 478.00,501.60 479.00,501.60 480.00,501.60 481.00,501.60 482.00,501.60 483.00,501.60 484.00,501.60 485.00,501.60 486.00,501.60 487.00,501.60 488.00,501.60 489.00,501.60 490.00,501.57 490.30,501.46 490.40,501.37 490.50,501.23 490.60,501.04 490.70,500.76 490.80,500.37 490.90,499.85 491.00,499.18 491.10,498.34 491.20,497.33 491.30,496.13 491.40,494.78 491.50,493.32 491.60,491.80 491.70,490.31 491.80,488.92 491.90,487.72 492.00,486.80 492.10,486.22 492.20,486.03 492.20,486.03 492.30,486.25 492.40,486.85 492.50,487.79 492.60,489.00 492.70,490.40 492.80,491.90 492.90,493.42 493.00,494.87 493.10,496.21 493.20,497.40 493.30,498.40 493.40,499.23 493.50,499.89 493.60,500.40 493.70,500.78 493.80,501.05 493.90,501.24 494.00,501.37 494.10,501.46 494.90,501.60 495.90,501.60 496.90,501.60 497.90,501.60 498.50,501.48 498.60,501.40 498.70,501.28 498.80,501.11 498.90,500.85 499.00,500.49 499.10,500.00 499.20,499.36 499.30,498.53 499.40,497.51 499.50,496.28 499.60,494.86 499.70,493.29 499.80,491.61 499.90,489.90 500.00,488.25 500.10,486.76 500.20,485.53 500.30,484.64 500.40,484.16 500.46,484.09 500.50,484.13 500.60,484.55 500.70,485.38 500.80,486.57 500.90,488.03 501.00,489.66 501.10,491.37 501.20,493.06 501.30,494.65 501.40,496.09 501.50,497.34 501.60,498.40 501.70,499.25 501.80,499.92 501.90,500.43 502.00,500.81 502.10,501.08 502.20,501.26 502.30,501.39 502.40,501.47 502.80,501.59 503.80,501.60 504.80,501.60 505.80,501.60 506.80,501.48 506.90,501.41 507.00,501.31 507.10,501.16 507.20,500.95 507.30,500.67 507.40,500.29 507.50,499.82 507.60,499.24 507.70,498.55 507.80,497.76 507.90,496.89 508.00,495.96 508.10,495.03 508.20,494.15 508.30,493.36 508.40,492.72 508.50,492.28 508.60,492.06 508.64,492.05 508.70,492.10 508.80,492.37 508.90,492.87 509.00,493.55 509.10,494.37 509.20,495.28 509.30,496.21 509.40,497.12 509.50,497.98 509.60,498.74 509.70,499.40 509.80,499.96 509.90,500.40 510.00,500.75 510.10,501.01 510.20,501.20 510.30,501.34 510.40,501.43 510.50,501.50 510.70,501.56 511.70,501.60 512.70,501.60 513.70,501.60 514.70,501.59 515.10,501.51 515.20,501.46 515.30,501.38 515.40,501.28 515.50,501.13 515.60,500.94 515.70,500.70 515.80,500.40 515.90,500.04 516.00,499.63 516.10,499.16 516.20,498.67 516.30,498.17 516.40,497.69 516.50,497.25 516.60,496.89 516.70,496.63 516.80,496.49 516.86,496.47 516.90,496.48 517.00,496.60 517.10,496.85 517.20,497.20 517.30,497.63 517.40,498.11 517.50,498.60 517.60,499.10 517.70,499.57 517.80,499.99 517.90,500.35 518.00,500.66 518.10,500.91 518.20,501.11 518.30,501.26 518.40,501.37 518.50,501.45 518.60,501.50 519.60,501.60 520.60,501.60 521.60,501.60 522.60,501.60 523.50,501.51 523.60,501.47 523.70,501.40 523.80,501.32 523.90,501.22 524.00,501.09 524.10,500.94 524.20,500.75 524.30,500.55 524.40,500.33 524.50,500.11 524.60,499.89 524.70,499.69 524.80,499.52 524.90,499.39 525.00,499.32 525.08,499.30 525.10,499.30 525.20,499.35 525.30,499.44 525.40,499.59 525.50,499.78 525.60,499.99 525.70,500.21 525.80,500.44 525.90,500.65 526.00,500.84 526.10,501.01 526.20,501.15 526.30,501.27 526.40,501.36 526.50,501.44 526.60,501.49 527.50,501.60 528.50,501.60 529.50,501.60 530.50,501.60 531.50,501.59 532.00,501.50 532.10,501.46 532.20,501.42 532.30,501.36 532.40,501.29 532.50,501.21 532.60,501.13 532.70,501.04 532.80,500.96 532.90,500.88 533.00,500.81 533.10,500.76 533.20,500.73 533.30,500.72 533.30,500.72 533.40,500.73 533.50,500.76 533.60,500.82 533.70,500.88 533.80,500.96 533.90,501.05 534.00,501.14 534.10,501.22 534.20,501.29 534.30,501.36 534.40,501.42 534.50,501.47 534.60,501.50 535.40,501.60 536.40,501.60 537.40,501.60 538.40,501.60 539.40,501.60 540.40,501.60 541.40,501.60 542.40,501.60 543.40,501.60 544.40,501.60 545.40,501.60 546.40,501.60 547.40,501.60 548.40,501.60 549.40,501.60 550.40,501.60 551.40,501.60 552.40,501.60 553.40,501.60 554.40,501.60 555.40,501.60 556.40,501.60 557.40,501.60 558.40,501.60 559.40,501.60 560.40,501.60 561.40,501.60 562.40,501.60 563.40,501.60 564.40,501.60 565.40,501.60 566.40,501.60 567.40,501.60 568.40,501.60 569.40,501.60 570.40,501.60 571.40,501.60 572.40,501.60 573.40,501.60 574.40,501.60 575.40,501.60 576.40,501.60 577.40,501.60 578.40,501.60 579.40,501.60 580.40,501.60 581.40,501.60 582.40,501.60 583.40,501.60 584.40,501.60 585.40,501.60 586.40,501.60 587.40,501.60 588.40,501.60 589.40,501.60 590.40,501.60 591.40,501.60 592.40,501.60 593.40,501.60 594.40,501.60 595.40,501.60 596.40,501.60 597.40,501.60 598.40,501.60 599.40,501.60 600.40,501.60 601.40,501.60 602.40,501.60 603.40,501.60 604.40,501.60 605.40,501.60 606.40,501.60 607.40,501.60 608.40,501.60 609.40,501.60 610.40,501.60 611.40,501.60 612.40,501.60 613.40,501.60 614.40,501.60 615.40,501.60 616.40,501.60 617.40,501.60 618.40,501.60 619.40,501.60 620.40,501.60 621.40,501.60 622.40,501.60 623.40,501.60 624.40,501.60 625.40,501.60 626.40,501.60 627.40,501.60 628.40,501.60 629.40,501.59 629.80,501.45 629.90,501.33 630.00,501.13 630.10,500.80 630.20,500.27 630.30,499.44 630.40,498.18 630.50,496.33 630.60,493.69 630.70,490.03 630.80,485.12 630.90,478.71 631.00,470.64 631.10,460.78 631.20,449.18 631.30,436.00 631.40,421.62 631.50,406.60 631.60,391.64 631.70,377.61 631.80,365.36 631.90,355.76 632.00,349.49 632.10,347.02 632.11,346.99 632.20,348.54 632.30,353.94 632.40,362.81 632.50,374.50 632.60,388.19 632.70,403.01 632.80,418.09 632.90,432.68 633.00,446.18 633.10,458.18 633.20,468.46 633.30,476.95 633.40,483.74 633.50,488.99 633.60,492.92 633.70,495.79 633.80,497.80 633.90,499.18 634.00,500.10 634.10,500.70 634.20,501.07 634.30,501.29 634.40,501.43 634.50,501.51 635.30,501.60 636.30,501.60 637.30,501.60 637.90,501.49 638.00,501.40 638.10,501.25 638.20,500.98 638.30,500.55 638.40,499.87 638.50,498.81 638.60,497.21 638.70,494.89 638.80,491.59 638.90,487.05 639.00,481.01 639.10,473.20 639.20,463.43 639.30,451.63 639.40,437.86 639.50,422.37 639.60,405.66 639.70,388.40 639.80,371.47 639.90,355.84 640.00,342.54 640.10,332.47 640.20,326.39 640.29,324.70 640.30,324.75 640.40,327.67 640.50,334.94 640.60,346.01 640.70,360.07 640.80,376.17 640.90,393.29 641.00,410.48 641.10,426.90 641.20,441.94 641.30,455.18 641.40,466.40 641.50,475.60 641.60,482.89 641.70,488.48 641.80,492.63 641.90,495.63 642.00,497.73 642.10,499.15 642.20,500.09 642.30,500.70 642.40,501.07 642.50,501.30 642.60,501.43 642.70,501.51 643.20,501.60 644.20,501.60 645.20,501.60 646.20,501.55 646.40,501.44 646.50,501.32 646.60,501.13 646.70,500.81 646.80,500.33 646.90,499.59 647.00,498.51 647.10,496.98 647.20,494.86 647.30,492.02 647.40,488.33 647.50,483.70 647.60,478.07 647.70,471.46 647.80,463.99 647.90,455.87 648.00,447.43 648.10,439.08 648.20,431.29 648.30,424.57 648.40,419.37 648.50,416.07 648.60,414.92 648.60,414.92 648.70,416.01 648.80,419.26 648.90,424.42 649.00,431.12 649.10,438.88 649.20,447.23 649.30,455.67 649.40,463.80 649.50,471.29 649.60,477.92 649.70,483.57 649.80,488.23 649.90,491.94 650.00,494.80 650.10,496.93 650.20,498.48 650.30,499.57 650.40,500.31 650.50,500.80 650.60,501.12 650.70,501.32 650.80,501.44 650.90,501.51 651.10,501.57 652.10,501.60 653.10,501.60 654.10,501.60 654.70,501.49 654.80,501.42 654.90,501.31 655.00,501.13 655.10,500.86 655.20,500.46 655.30,499.91 655.40,499.14 655.50,498.12 655.60,496.81 655.70,495.18 655.80,493.20 655.90,490.90 656.00,488.32 656.10,485.53 656.20,482.67 656.30,479.86 656.40,477.29 656.50,475.10 656.60,473.46 656.70,472.48 656.78,472.23 656.80,472.25 656.90,472.77 657.00,474.01 657.10,475.88 657.20,478.23 657.30,480.92 657.40,483.76 657.50,486.61 657.60,489.33 657.70,491.81 657.80,493.99 657.90,495.84 658.00,497.35 658.10,498.55 658.20,499.46 658.30,500.14 658.40,500.63 658.50,500.97 658.60,501.20 658.70,501.36 658.80,501.45 659.00,501.55 660.00,501.60 661.00,501.60 662.00,501.60 663.00,501.49 663.10,501.42 663.20,501.32 663.30,501.18 663.40,500.99 663.50,500.73 663.60,500.39 663.70,499.96 663.80,499.43 663.90,498.81 664.00,498.11 664.10,497.34 664.20,496.53 664.30,495.73 664.40,494.97 664.50,494.30 664.60,493.78 664.70,493.43 664.80,493.29 664.82,493.29 664.90,493.36 665.00,493.64 665.10,494.11 665.20,494.73 665.30,495.46 665.40,496.26 665.50,497.07 665.60,497.86 665.70,498.59 665.80,499.24 665.90,499.79 666.00,500.25 666.10,500.62 666.20,500.91 666.30,501.12 666.40,501.28 666.50,501.39 666.60,501.47 666.90,501.57 667.90,501.60 668.90,501.60 669.90,501.60 670.90,501.56 671.10,501.48 671.20,501.40 671.30,501.29 671.40,501.11 671.50,500.86 671.60,500.51 671.70,500.04 671.80,499.42 671.90,498.64 672.00,497.67 672.10,496.52 672.20,495.20 672.30,493.74 672.40,492.21 672.50,490.66 672.60,489.18 672.70,487.86 672.80,486.80 672.90,486.06 673.00,485.71 673.04,485.68 673.10,485.76 673.20,486.22 673.30,487.05 673.40,488.19 673.50,489.56 673.60,491.06 673.70,492.62 673.80,494.14 673.90,495.56 674.00,496.84 674.10,497.94 674.20,498.86 674.30,499.60 674.40,500.18 674.50,500.62 674.60,500.94 674.70,501.16 674.80,501.32 674.90,501.43 675.00,501.49 675.80,501.60 676.80,501.60 677.80,501.60 678.80,501.59 679.30,501.48 679.40,501.40 679.50,501.29 679.60,501.11 679.70,500.86 679.80,500.50 679.90,500.02 680.00,499.38 680.10,498.56 680.20,497.54 680.30,496.33 680.40,494.93 680.50,493.37 680.60,491.71 680.70,490.02 680.80,488.38 680.90,486.91 681.00,485.69 681.10,484.81 681.20,484.34 681.26,484.26 681.30,484.31 681.40,484.72 681.50,485.55 681.60,486.73 681.70,488.17 681.80,489.79 681.90,491.48 682.00,493.15 682.10,494.72 682.20,496.15 682.30,497.39 682.40,498.43 682.50,499.28 682.60,499.94 682.70,500.45 682.80,500.82 682.90,501.08 683.00,501.27 683.10,501.39 683.20,501.47 683.70,501.59 684.70,501.60 685.70,501.60 686.70,501.60 687.40,501.50 687.50,501.43 687.60,501.34 687.70,501.21 687.80,501.02 687.90,500.77 688.00,500.43 688.10,500.01 688.20,499.48 688.30,498.85 688.40,498.13 688.50,497.33 688.60,496.48 688.70,495.62 688.80,494.79 688.90,494.05 689.00,493.44 689.10,493.00 689.20,492.78 689.25,492.75 689.30,492.79 689.40,493.02 689.50,493.45 689.60,494.07 689.70,494.82 689.80,495.65 689.90,496.51 690.00,497.36 690.10,498.16 690.20,498.88 690.30,499.50 690.40,500.02 690.50,500.45 690.60,500.78 690.70,501.03 690.80,501.21 690.90,501.35 691.00,501.44 691.10,501.50 691.60,501.59 692.60,501.60 693.60,501.60 694.60,501.60 695.60,501.59 696.10,501.47 696.20,501.41 696.30,501.32 696.40,501.20 696.50,501.05 696.60,500.86 696.70,500.63 696.80,500.36 696.90,500.05 697.00,499.72 697.10,499.37 697.20,499.03 697.30,498.72 697.40,498.45 697.50,498.24 697.60,498.10 697.70,498.06 697.70,498.06 697.80,498.11 697.90,498.25 698.00,498.46 698.10,498.74 698.20,499.05 698.30,499.40 698.40,499.74 698.50,500.07 698.60,500.38 698.70,500.64 698.80,500.87 698.90,501.06 699.00,501.21 699.10,501.33 699.20,501.41 699.30,501.48 699.50,501.55 700.50,501.60 701.50,501.60 702.50,501.60 703.50,501.60 704.50,501.60 705.50,501.60 706.50,501.60 707.50,501.60 708.50,501.60 709.50,501.60 710.50,501.60 711.50,501.60 712.50,501.60 713.50,501.60 714.50,501.60 715.50,501.60 716.50,501.60 717.50,501.60 718.50,501.60 719.50,501.60 720.50,501.60" fill="none" stroke="#000" stroke-width="1.05" stroke-linejoin="round"/>
<text x="614.36" y="322.4" font-size="11.2" text-anchor="start" fill="#111" >1492.4557</text>
<text x="579.86" y="338.8" font-size="11.2" text-anchor="start" fill="#111" >1491.4613</text>
<line x1="632.3" y1="347.2" x2="626.7" y2="341.4" stroke="#222" stroke-width="0.75"/>
<text x="649.06" y="406.3" font-size="11.2" text-anchor="start" fill="#111" >1493.4673</text>
<line x1="648.4" y1="415.2" x2="654.7" y2="408.6" stroke="#222" stroke-width="0.75"/>
<text x="474.46" y="481.9" font-size="11.2" text-anchor="start" fill="#111" >1475.4449</text>
<text x="690.26" y="484.2" font-size="11.2" text-anchor="start" fill="#111" >1498.4122</text>
<line x1="689.3" y1="492.8" x2="696.4" y2="485.8" stroke="#222" stroke-width="0.75"/>
<text x="587.96" y="303.8" font-size="17.4" fill="#000" xml:space="preserve">(2M + NH<tspan font-size="9.8" dx="0.4" dy="5.6">4</tspan><tspan dx="0.5" dy="-5.6">)</tspan><tspan font-size="9.8" dx="-0.3" dy="-5.8">+</tspan></text>
<text x="467.16" y="456.5" font-size="17.4" fill="#000" xml:space="preserve">(2M + H)<tspan font-size="9.8" dx="-0.3" dy="-5.8">+</tspan></text>
<text x="670.46" y="463.8" font-size="17.4" fill="#000" xml:space="preserve">(2M + Na)<tspan font-size="9.8" dx="-0.3" dy="-5.8">+</tspan></text>
<text x="693.51" y="351.5" font-size="26.3" font-style="italic" fill="#000" stroke="#000" stroke-width="0.3">c</text>
<line x1="692.3" y1="357.1" x2="706" y2="357.1" stroke="#000" stroke-width="2.0"/>
<line x1="85.3" y1="580" x2="85.3" y2="759.75" stroke="#000" stroke-width="1.45"/>
<line x1="77" y1="759" x2="85.3" y2="759" stroke="#000" stroke-width="1.15"/>
<line x1="81.9" y1="741.16" x2="85.3" y2="741.16" stroke="#000" stroke-width="1.15"/>
<line x1="81.9" y1="723.32" x2="85.3" y2="723.32" stroke="#000" stroke-width="1.15"/>
<line x1="81.9" y1="705.48" x2="85.3" y2="705.48" stroke="#000" stroke-width="1.15"/>
<line x1="81.9" y1="687.64" x2="85.3" y2="687.64" stroke="#000" stroke-width="1.15"/>
<line x1="77.9" y1="669.8" x2="85.3" y2="669.8" stroke="#000" stroke-width="1.15"/>
<line x1="81.9" y1="651.96" x2="85.3" y2="651.96" stroke="#000" stroke-width="1.15"/>
<line x1="81.9" y1="634.12" x2="85.3" y2="634.12" stroke="#000" stroke-width="1.15"/>
<line x1="81.9" y1="616.28" x2="85.3" y2="616.28" stroke="#000" stroke-width="1.15"/>
<line x1="81.9" y1="598.44" x2="85.3" y2="598.44" stroke="#000" stroke-width="1.15"/>
<line x1="77" y1="580.6" x2="85.3" y2="580.6" stroke="#000" stroke-width="1.15"/>
<text x="76.76" y="585.5" font-size="12" text-anchor="end" fill="#111" >100</text>
<text x="76.73" y="763.9" font-size="12" text-anchor="end" fill="#111" >0</text>
<text transform="translate(78,675.34) rotate(-90)" x="0" y="0" font-size="12" fill="#111">%</text>
<text transform="translate(55.2,708.97) rotate(-90)" x="0" y="0" font-size="16.1" fill="#111">Abundance</text>
<line x1="84.6" y1="759" x2="690.7" y2="759" stroke="#000" stroke-width="1.5"/>
<line x1="91.5" y1="759" x2="91.5" y2="763.6" stroke="#000" stroke-width="1.1"/>
<line x1="97.91" y1="759" x2="97.91" y2="763.6" stroke="#000" stroke-width="1.1"/>
<line x1="104.33" y1="759" x2="104.33" y2="767.8" stroke="#000" stroke-width="1.1"/>
<line x1="110.74" y1="759" x2="110.74" y2="763.6" stroke="#000" stroke-width="1.1"/>
<line x1="117.16" y1="759" x2="117.16" y2="763.6" stroke="#000" stroke-width="1.1"/>
<line x1="123.57" y1="759" x2="123.57" y2="763.6" stroke="#000" stroke-width="1.1"/>
<line x1="129.99" y1="759" x2="129.99" y2="763.6" stroke="#000" stroke-width="1.1"/>
<line x1="136.4" y1="759" x2="136.4" y2="767.8" stroke="#000" stroke-width="1.1"/>
<line x1="142.81" y1="759" x2="142.81" y2="763.6" stroke="#000" stroke-width="1.1"/>
<line x1="149.23" y1="759" x2="149.23" y2="763.6" stroke="#000" stroke-width="1.1"/>
<line x1="155.65" y1="759" x2="155.65" y2="763.6" stroke="#000" stroke-width="1.1"/>
<line x1="162.06" y1="759" x2="162.06" y2="763.6" stroke="#000" stroke-width="1.1"/>
<line x1="168.48" y1="759" x2="168.48" y2="767.8" stroke="#000" stroke-width="1.1"/>
<line x1="174.89" y1="759" x2="174.89" y2="763.6" stroke="#000" stroke-width="1.1"/>
<line x1="181.31" y1="759" x2="181.31" y2="763.6" stroke="#000" stroke-width="1.1"/>
<line x1="187.72" y1="759" x2="187.72" y2="763.6" stroke="#000" stroke-width="1.1"/>
<line x1="194.13" y1="759" x2="194.13" y2="763.6" stroke="#000" stroke-width="1.1"/>
<line x1="200.55" y1="759" x2="200.55" y2="767.8" stroke="#000" stroke-width="1.1"/>
<line x1="206.97" y1="759" x2="206.97" y2="763.6" stroke="#000" stroke-width="1.1"/>
<line x1="213.38" y1="759" x2="213.38" y2="763.6" stroke="#000" stroke-width="1.1"/>
<line x1="219.8" y1="759" x2="219.8" y2="763.6" stroke="#000" stroke-width="1.1"/>
<line x1="226.21" y1="759" x2="226.21" y2="763.6" stroke="#000" stroke-width="1.1"/>
<line x1="232.62" y1="759" x2="232.62" y2="767.8" stroke="#000" stroke-width="1.1"/>
<line x1="239.04" y1="759" x2="239.04" y2="763.6" stroke="#000" stroke-width="1.1"/>
<line x1="245.46" y1="759" x2="245.46" y2="763.6" stroke="#000" stroke-width="1.1"/>
<line x1="251.87" y1="759" x2="251.87" y2="763.6" stroke="#000" stroke-width="1.1"/>
<line x1="258.29" y1="759" x2="258.29" y2="763.6" stroke="#000" stroke-width="1.1"/>
<line x1="264.7" y1="759" x2="264.7" y2="767.8" stroke="#000" stroke-width="1.1"/>
<line x1="271.12" y1="759" x2="271.12" y2="763.6" stroke="#000" stroke-width="1.1"/>
<line x1="277.53" y1="759" x2="277.53" y2="763.6" stroke="#000" stroke-width="1.1"/>
<line x1="283.94" y1="759" x2="283.94" y2="763.6" stroke="#000" stroke-width="1.1"/>
<line x1="290.36" y1="759" x2="290.36" y2="763.6" stroke="#000" stroke-width="1.1"/>
<line x1="296.77" y1="759" x2="296.77" y2="767.8" stroke="#000" stroke-width="1.1"/>
<line x1="303.19" y1="759" x2="303.19" y2="763.6" stroke="#000" stroke-width="1.1"/>
<line x1="309.61" y1="759" x2="309.61" y2="763.6" stroke="#000" stroke-width="1.1"/>
<line x1="316.02" y1="759" x2="316.02" y2="763.6" stroke="#000" stroke-width="1.1"/>
<line x1="322.44" y1="759" x2="322.44" y2="763.6" stroke="#000" stroke-width="1.1"/>
<line x1="328.85" y1="759" x2="328.85" y2="767.8" stroke="#000" stroke-width="1.1"/>
<line x1="335.26" y1="759" x2="335.26" y2="763.6" stroke="#000" stroke-width="1.1"/>
<line x1="341.68" y1="759" x2="341.68" y2="763.6" stroke="#000" stroke-width="1.1"/>
<line x1="348.1" y1="759" x2="348.1" y2="763.6" stroke="#000" stroke-width="1.1"/>
<line x1="354.51" y1="759" x2="354.51" y2="763.6" stroke="#000" stroke-width="1.1"/>
<line x1="360.93" y1="759" x2="360.93" y2="767.8" stroke="#000" stroke-width="1.1"/>
<line x1="367.34" y1="759" x2="367.34" y2="763.6" stroke="#000" stroke-width="1.1"/>
<line x1="373.75" y1="759" x2="373.75" y2="763.6" stroke="#000" stroke-width="1.1"/>
<line x1="380.17" y1="759" x2="380.17" y2="763.6" stroke="#000" stroke-width="1.1"/>
<line x1="386.59" y1="759" x2="386.59" y2="763.6" stroke="#000" stroke-width="1.1"/>
<line x1="393" y1="759" x2="393" y2="767.8" stroke="#000" stroke-width="1.1"/>
<line x1="399.41" y1="759" x2="399.41" y2="763.6" stroke="#000" stroke-width="1.1"/>
<line x1="405.83" y1="759" x2="405.83" y2="763.6" stroke="#000" stroke-width="1.1"/>
<line x1="412.25" y1="759" x2="412.25" y2="763.6" stroke="#000" stroke-width="1.1"/>
<line x1="418.66" y1="759" x2="418.66" y2="763.6" stroke="#000" stroke-width="1.1"/>
<line x1="425.08" y1="759" x2="425.08" y2="767.8" stroke="#000" stroke-width="1.1"/>
<line x1="431.49" y1="759" x2="431.49" y2="763.6" stroke="#000" stroke-width="1.1"/>
<line x1="437.9" y1="759" x2="437.9" y2="763.6" stroke="#000" stroke-width="1.1"/>
<line x1="444.32" y1="759" x2="444.32" y2="763.6" stroke="#000" stroke-width="1.1"/>
<line x1="450.74" y1="759" x2="450.74" y2="763.6" stroke="#000" stroke-width="1.1"/>
<line x1="457.15" y1="759" x2="457.15" y2="767.8" stroke="#000" stroke-width="1.1"/>
<line x1="463.57" y1="759" x2="463.57" y2="763.6" stroke="#000" stroke-width="1.1"/>
<line x1="469.98" y1="759" x2="469.98" y2="763.6" stroke="#000" stroke-width="1.1"/>
<line x1="476.39" y1="759" x2="476.39" y2="763.6" stroke="#000" stroke-width="1.1"/>
<line x1="482.81" y1="759" x2="482.81" y2="763.6" stroke="#000" stroke-width="1.1"/>
<line x1="489.23" y1="759" x2="489.23" y2="767.8" stroke="#000" stroke-width="1.1"/>
<line x1="495.64" y1="759" x2="495.64" y2="763.6" stroke="#000" stroke-width="1.1"/>
<line x1="502.06" y1="759" x2="502.06" y2="763.6" stroke="#000" stroke-width="1.1"/>
<line x1="508.47" y1="759" x2="508.47" y2="763.6" stroke="#000" stroke-width="1.1"/>
<line x1="514.88" y1="759" x2="514.88" y2="763.6" stroke="#000" stroke-width="1.1"/>
<line x1="521.3" y1="759" x2="521.3" y2="767.8" stroke="#000" stroke-width="1.1"/>
<line x1="527.72" y1="759" x2="527.72" y2="763.6" stroke="#000" stroke-width="1.1"/>
<line x1="534.13" y1="759" x2="534.13" y2="763.6" stroke="#000" stroke-width="1.1"/>
<line x1="540.54" y1="759" x2="540.54" y2="763.6" stroke="#000" stroke-width="1.1"/>
<line x1="546.96" y1="759" x2="546.96" y2="763.6" stroke="#000" stroke-width="1.1"/>
<line x1="553.38" y1="759" x2="553.38" y2="767.8" stroke="#000" stroke-width="1.1"/>
<line x1="559.79" y1="759" x2="559.79" y2="763.6" stroke="#000" stroke-width="1.1"/>
<line x1="566.21" y1="759" x2="566.21" y2="763.6" stroke="#000" stroke-width="1.1"/>
<line x1="572.62" y1="759" x2="572.62" y2="763.6" stroke="#000" stroke-width="1.1"/>
<line x1="579.03" y1="759" x2="579.03" y2="763.6" stroke="#000" stroke-width="1.1"/>
<line x1="585.45" y1="759" x2="585.45" y2="767.8" stroke="#000" stroke-width="1.1"/>
<line x1="591.87" y1="759" x2="591.87" y2="763.6" stroke="#000" stroke-width="1.1"/>
<line x1="598.28" y1="759" x2="598.28" y2="763.6" stroke="#000" stroke-width="1.1"/>
<line x1="604.7" y1="759" x2="604.7" y2="763.6" stroke="#000" stroke-width="1.1"/>
<line x1="611.11" y1="759" x2="611.11" y2="763.6" stroke="#000" stroke-width="1.1"/>
<line x1="617.52" y1="759" x2="617.52" y2="767.8" stroke="#000" stroke-width="1.1"/>
<line x1="623.94" y1="759" x2="623.94" y2="763.6" stroke="#000" stroke-width="1.1"/>
<line x1="630.36" y1="759" x2="630.36" y2="763.6" stroke="#000" stroke-width="1.1"/>
<line x1="636.77" y1="759" x2="636.77" y2="763.6" stroke="#000" stroke-width="1.1"/>
<line x1="643.19" y1="759" x2="643.19" y2="763.6" stroke="#000" stroke-width="1.1"/>
<line x1="649.6" y1="759" x2="649.6" y2="767.8" stroke="#000" stroke-width="1.1"/>
<line x1="656.01" y1="759" x2="656.01" y2="763.6" stroke="#000" stroke-width="1.1"/>
<line x1="662.43" y1="759" x2="662.43" y2="763.6" stroke="#000" stroke-width="1.1"/>
<line x1="668.85" y1="759" x2="668.85" y2="763.6" stroke="#000" stroke-width="1.1"/>
<line x1="675.26" y1="759" x2="675.26" y2="763.6" stroke="#000" stroke-width="1.1"/>
<line x1="681.67" y1="759" x2="681.67" y2="767.8" stroke="#000" stroke-width="1.1"/>
<line x1="688.09" y1="759" x2="688.09" y2="763.6" stroke="#000" stroke-width="1.1"/>
<text x="124.7" y="779.1" font-size="12" text-anchor="start" fill="#111" >5.00</text>
<text x="185.31" y="779.1" font-size="12" text-anchor="start" fill="#111" >10.00</text>
<text x="249.46" y="779.1" font-size="12" text-anchor="start" fill="#111" >15.00</text>
<text x="313.76" y="779.1" font-size="12" text-anchor="start" fill="#111" >20.00</text>
<text x="377.91" y="779.1" font-size="12" text-anchor="start" fill="#111" >25.00</text>
<text x="442.12" y="779.1" font-size="12" text-anchor="start" fill="#111" >30.00</text>
<text x="506.27" y="779.1" font-size="12" text-anchor="start" fill="#111" >35.00</text>
<text x="570.54" y="779.1" font-size="12" text-anchor="start" fill="#111" >40.00</text>
<text x="634.69" y="779.1" font-size="12" text-anchor="start" fill="#111" >45.00</text>
<text x="698.95" y="763.9" font-size="12.5" text-anchor="start" fill="#111" >Time</text>
<polyline points="85.1,759.0 85.6,759.0 86.1,759.0 86.6,759.0 87.1,759.0 87.6,759.0 88.2,759.0 88.7,759.0 89.2,759.0 89.7,759.0 90.2,759.0 90.7,759.0 91.2,759.0 91.8,759.0 92.3,759.0 92.8,759.0 93.3,759.0 93.8,759.0 94.3,759.0 94.8,759.0 95.3,759.0 95.9,759.0 96.4,759.0 96.9,758.9 97.4,758.9 97.9,758.9 98.4,758.8 98.9,758.8 99.4,758.7 100.0,758.5 100.5,758.2 101.0,757.4 101.5,755.8 102.0,753.2 102.5,749.7 103.0,746.7 103.6,745.4 103.6,745.4 104.1,746.7 104.6,749.7 105.1,753.2 105.6,755.8 106.1,757.4 106.6,758.2 107.1,758.5 107.7,758.7 108.2,758.8 108.7,758.8 109.2,758.9 109.7,758.9 110.2,758.9 110.7,759.0 111.3,759.0 111.8,759.0 112.3,759.0 112.8,759.0 113.3,759.0 113.8,759.0 114.3,759.0 114.8,759.0 115.4,759.0 115.9,759.0 116.4,759.0 116.9,759.0 117.4,759.0 117.9,759.0 118.4,759.0 119.0,759.0 119.5,759.0 120.0,759.0 120.5,759.0 121.0,759.0 121.5,759.0 122.0,759.0 122.5,759.0 123.1,759.0 123.6,759.0 124.1,759.0 124.6,759.0 125.1,759.0 125.6,759.0 126.1,759.0 126.6,759.0 127.2,759.0 127.7,759.0 128.2,759.0 128.7,759.0 129.2,759.0 129.7,759.0 130.2,759.0 130.8,759.0 131.3,759.0 131.8,759.0 132.3,759.0 132.8,759.0 133.3,759.0 133.8,759.0 134.3,759.0 134.9,759.0 135.4,759.0 135.9,759.0 136.4,759.0 136.9,759.0 137.4,759.0 137.9,759.0 138.5,759.0 139.0,759.0 139.5,759.0 140.0,759.0 140.5,759.0 141.0,759.0 141.5,759.0 142.0,759.0 142.6,759.0 143.1,759.0 143.6,759.0 144.1,759.0 144.6,759.0 145.1,759.0 145.6,759.0 146.2,759.0 146.7,759.0 147.2,759.0 147.7,759.0 148.2,759.0 148.7,759.0 149.2,759.0 149.7,759.0 150.3,759.0 150.8,759.0 151.3,759.0 151.8,759.0 152.3,759.0 152.8,759.0 153.3,759.0 153.8,759.0 154.4,759.0 154.9,759.0 155.4,759.0 155.9,759.0 156.4,759.0 156.9,759.0 157.4,759.0 158.0,759.0 158.5,759.0 159.0,759.0 159.5,759.0 160.0,759.0 160.5,759.0 161.0,759.0 161.5,759.0 162.1,759.0 162.6,759.0 163.1,759.0 163.6,759.0 164.1,759.0 164.6,759.0 165.1,759.0 165.7,759.0 166.2,759.0 166.7,759.0 167.2,759.0 167.7,759.0 168.2,759.0 168.7,759.0 169.2,759.0 169.8,759.0 170.3,759.0 170.8,759.0 171.3,759.0 171.8,759.0 172.3,759.0 172.8,759.0 173.4,759.0 173.9,759.0 174.4,759.0 174.9,759.0 175.4,759.0 175.9,759.0 176.4,759.0 176.9,759.0 177.5,759.0 178.0,759.0 178.5,759.0 179.0,759.0 179.5,759.0 180.0,759.0 180.5,759.0 181.0,759.0 181.6,759.0 182.1,759.0 182.6,759.0 183.1,759.0 183.6,759.0 184.1,759.0 184.6,759.0 185.2,759.0 185.7,759.0 186.2,759.0 186.7,759.0 187.2,759.0 187.7,759.0 188.2,759.0 188.7,759.0 189.3,759.0 189.8,759.0 190.3,759.0 190.8,759.0 191.3,759.0 191.8,759.0 192.3,759.0 192.9,759.0 193.4,759.0 193.9,759.0 194.4,759.0 194.9,759.0 195.4,759.0 195.9,759.0 196.4,759.0 197.0,759.0 197.5,759.0 198.0,759.0 198.5,759.0 199.0,759.0 199.5,759.0 200.0,759.0 200.6,759.0 201.1,759.0 201.6,759.0 202.1,759.0 202.6,759.0 203.1,759.0 203.6,759.0 204.1,759.0 204.7,759.0 205.2,759.0 205.7,759.0 206.2,759.0 206.7,759.0 207.2,759.0 207.7,759.0 208.2,759.0 208.8,759.0 209.3,759.0 209.8,759.0 210.3,759.0 210.8,759.0 211.3,759.0 211.8,759.0 212.4,759.0 212.9,759.0 213.4,759.0 213.9,759.0 214.4,759.0 214.9,759.0 215.4,759.0 215.9,759.0 216.5,759.0 217.0,759.0 217.5,759.0 218.0,759.0 218.5,759.0 219.0,759.0 219.5,759.0 220.1,759.0 220.6,759.0 221.1,759.0 221.6,759.0 222.1,759.0 222.6,759.0 223.1,759.0 223.6,759.0 224.2,759.0 224.7,759.0 225.2,759.0 225.7,759.0 226.2,759.0 226.7,759.0 227.2,759.0 227.7,759.0 228.3,759.0 228.8,759.0 229.3,759.0 229.8,759.0 230.3,759.0 230.8,759.0 231.3,759.0 231.9,759.0 232.4,759.0 232.9,759.0 233.4,759.0 233.9,759.0 234.4,759.0 234.9,758.9 235.4,758.9 236.0,758.9 236.5,758.9 237.0,758.9 237.5,758.9 238.0,758.8 238.5,758.8 239.0,758.8 239.6,758.7 240.1,758.7 240.6,758.7 241.1,758.6 241.6,758.6 242.1,758.5 242.6,758.5 243.1,758.4 243.7,758.4 244.2,758.3 244.7,758.3 245.2,758.2 245.7,758.2 246.2,758.1 246.7,758.1 247.3,758.0 247.8,758.0 248.3,758.0 248.8,757.9 249.3,757.9 249.3,757.9 249.8,757.9 250.3,757.9 250.8,757.9 251.4,757.9 251.9,757.9 252.4,757.9 252.9,757.9 253.4,757.9 253.9,757.9 254.4,757.8 254.9,757.8 255.5,757.8 256.0,757.8 256.5,757.7 257.0,757.7 257.5,757.6 258.0,757.6 258.5,757.5 259.1,757.4 259.6,757.4 260.1,757.3 260.6,757.2 261.1,757.2 261.6,757.1 262.1,757.0 262.6,757.0 263.2,756.9 263.7,756.9 264.2,756.9 264.7,756.9 264.7,756.9 265.2,756.8 265.7,756.8 266.2,756.8 266.8,756.8 267.3,756.8 267.8,756.8 268.3,756.8 268.8,756.8 269.3,756.8 269.8,756.8 270.3,756.8 270.9,756.7 271.4,756.7 271.9,756.6 272.4,756.6 272.9,756.5 273.4,756.4 273.9,756.4 274.5,756.3 275.0,756.2 275.5,756.2 276.0,756.2 276.5,756.1 277.0,756.1 277.5,756.1 277.5,756.1 278.0,756.2 278.6,756.2 279.1,756.3 279.6,756.3 280.1,756.3 280.6,756.3 281.1,756.3 281.6,756.2 282.1,756.1 282.7,756.0 283.2,755.8 283.7,755.7 284.2,755.6 284.7,755.6 285.2,755.6 285.2,755.6 285.7,755.8 286.3,756.0 286.8,756.3 287.3,756.6 287.8,756.9 288.3,757.1 288.8,757.3 289.3,757.4 289.8,757.3 290.4,757.0 290.9,756.5 291.4,755.9 291.9,755.2 292.4,754.3 292.9,753.5 293.4,752.7 294.0,752.1 294.2,751.9 294.5,751.6 295.0,751.2 295.5,750.6 296.0,749.8 296.5,748.5 297.0,746.7 297.5,744.4 298.1,741.7 298.6,739.0 299.1,736.5 299.6,734.8 300.1,734.0 300.2,734.0 300.6,734.4 301.1,735.9 301.7,738.2 302.2,741.2 302.7,744.4 303.2,747.5 303.7,750.2 304.2,752.5 304.7,754.3 305.2,755.6 305.8,756.4 306.3,756.9 306.8,757.0 307.3,756.7 307.8,756.1 308.3,755.0 308.8,753.6 309.3,752.1 309.9,750.8 310.4,750.1 310.5,750.1 310.9,750.2 311.4,751.0 311.9,752.2 312.4,753.5 312.9,754.6 313.5,755.4 314.0,755.8 314.5,755.9 315.0,755.9 315.5,755.7 316.0,755.4 316.0,755.4 316.5,755.0 317.0,754.5 317.6,754.0 318.1,753.7 318.6,753.6 318.6,753.6 319.1,753.9 319.6,754.4 320.1,754.8 320.6,755.1 321.2,755.1 321.7,754.5 322.2,753.6 322.7,752.5 323.2,751.7 323.6,751.5 323.7,751.5 324.2,751.9 324.7,752.6 325.3,753.4 325.8,753.9 326.3,754.1 326.8,753.9 327.3,753.7 327.6,753.6 327.8,753.6 328.3,753.6 328.9,753.4 329.4,752.7 329.9,750.5 330.4,746.0 330.9,738.1 331.4,726.6 331.9,712.4 332.4,697.4 333.0,684.2 333.5,674.6 334.0,669.5 334.5,668.0 334.6,668.0 335.0,668.4 335.5,671.5 336.0,678.9 336.5,690.5 337.1,704.9 337.6,719.8 338.1,732.9 338.6,742.7 339.1,749.1 339.6,752.6 340.1,754.4 340.7,755.2 341.2,755.6 341.7,755.9 342.2,756.1 342.7,756.3 343.2,756.5 343.7,756.6 344.2,756.7 344.8,756.6 345.3,756.3 345.8,755.7 346.3,754.8 346.8,753.3 347.3,751.3 347.8,748.8 348.4,746.0 348.9,743.3 349.4,741.1 349.9,739.7 350.3,739.4 350.4,739.4 350.9,740.3 351.4,742.2 351.9,744.8 352.5,747.6 353.0,750.3 353.5,752.7 354.0,754.4 354.5,755.7 355.0,756.5 355.5,756.9 356.0,757.1 356.6,757.2 357.1,757.1 357.6,757.0 358.1,756.8 358.6,756.6 359.1,756.3 359.6,756.1 360.2,755.8 360.7,755.4 361.2,754.7 361.7,753.2 362.2,749.8 362.7,742.9 363.2,731.4 363.7,715.6 364.3,697.6 364.8,681.1 365.3,669.2 365.8,663.3 366.3,662.0 366.3,662.0 366.8,663.0 367.3,668.5 367.9,679.6 368.4,695.0 368.9,711.2 369.4,724.8 369.9,733.7 370.4,738.3 370.9,740.4 371.2,741.2 371.4,741.9 372.0,743.9 372.5,746.5 373.0,749.4 373.5,751.9 374.0,753.9 374.5,755.3 375.0,756.2 375.6,756.7 376.1,757.0 376.6,757.2 377.1,757.4 377.6,757.5 378.1,757.5 378.6,757.4 379.1,757.2 379.7,756.7 380.2,755.8 380.7,754.4 381.2,752.1 381.7,749.0 382.2,745.1 382.7,740.6 383.2,736.1 383.8,732.3 384.3,729.8 384.7,729.2 384.8,729.3 385.3,730.7 385.8,733.7 386.3,737.9 386.8,742.3 387.4,746.4 387.9,749.8 388.4,752.3 388.9,754.0 389.4,755.0 389.9,755.4 390.4,755.6 390.9,755.5 391.5,755.4 392.0,755.2 392.5,754.9 393.0,754.6 393.5,754.2 394.0,753.4 394.5,751.8 395.1,748.4 395.6,741.9 396.1,731.0 396.6,715.4 397.1,696.1 397.6,676.0 398.1,658.1 398.6,645.2 399.2,638.3 399.7,636.3 399.8,636.3 400.2,636.8 400.7,641.0 401.2,650.9 401.7,666.5 402.2,686.0 402.8,706.1 403.3,723.8 403.8,737.1 404.3,745.6 404.8,750.4 405.3,752.7 405.8,753.8 406.3,754.3 406.9,754.7 407.4,754.9 407.9,755.0 408.4,754.9 408.9,754.6 409.4,754.1 409.9,753.4 410.4,752.7 411.0,752.1 411.5,751.9 411.5,751.9 412.0,752.1 412.5,752.6 413.0,753.3 413.5,753.7 414.0,753.3 414.6,751.3 415.1,746.9 415.6,739.4 416.1,729.4 416.6,718.2 417.1,708.1 417.6,700.9 418.1,697.4 418.7,696.6 418.7,696.6 419.2,697.2 419.7,700.6 420.2,707.6 420.7,717.5 421.2,728.5 421.2,728.5 421.7,738.5 422.3,745.9 422.8,750.3 423.3,752.5 423.8,753.3 424.3,753.4 424.8,753.3 425.3,753.0 425.8,752.7 426.4,752.4 426.9,752.0 427.4,751.4 427.9,750.1 428.4,747.4 428.9,741.8 429.4,731.3 430.0,714.2 430.5,690.7 431.0,662.7 431.5,634.6 432.0,610.9 432.5,594.8 433.0,587.0 433.5,585.4 433.5,585.4 434.1,587.0 434.6,594.9 435.1,611.0 435.6,634.8 436.1,662.9 436.6,690.8 437.1,714.5 437.6,731.5 438.2,742.1 438.7,747.8 439.2,750.5 439.7,751.7 440.2,752.2 440.7,752.4 441.2,752.2 441.8,751.5 442.3,750.4 442.8,748.9 443.3,747.4 443.8,746.3 444.3,746.0 444.3,746.0 444.8,746.6 445.3,747.9 445.9,749.7 446.4,751.3 446.9,752.6 447.4,753.2 447.9,752.6 448.4,750.2 448.9,745.3 449.5,737.1 450.0,725.8 450.5,712.7 451.0,700.3 451.5,690.5 452.0,684.6 452.5,682.5 452.8,682.3 453.0,682.4 453.6,684.4 454.1,690.1 454.6,699.7 455.1,712.0 455.6,724.8 456.1,735.9 456.6,743.9 457.2,748.6 457.7,750.7 458.2,751.0 458.7,750.3 459.2,748.8 459.7,746.9 460.2,744.9 460.7,743.0 461.3,741.7 461.6,741.2 461.8,741.1 462.3,740.9 462.8,740.7 463.3,739.0 463.8,734.3 464.3,725.1 464.8,710.4 465.4,690.9 465.9,668.5 466.4,646.4 466.9,627.8 467.4,614.7 467.9,607.8 468.4,605.8 468.6,605.8 469.0,606.3 469.5,610.4 470.0,620.3 470.5,636.4 471.0,657.2 471.5,680.2 472.0,702.0 472.5,720.1 473.1,733.3 473.6,741.5 474.1,745.5 474.6,746.0 475.1,743.7 475.6,739.0 476.1,733.2 476.4,730.3 476.7,727.7 477.2,724.0 477.7,722.3 478.1,722.1 478.2,722.1 478.7,722.9 479.2,725.6 479.7,730.3 480.2,735.9 480.8,740.7 481.3,742.8 481.8,740.8 482.3,733.8 482.8,721.3 483.3,704.0 483.8,683.5 484.3,662.8 484.9,644.9 485.4,632.3 485.9,625.5 486.4,623.6 486.5,623.6 486.9,624.1 487.4,628.2 487.9,637.8 488.5,653.2 489.0,672.8 489.5,693.8 490.0,713.0 490.5,728.2 491.0,738.5 491.5,744.6 492.0,747.7 492.6,749.0 493.1,749.4 493.6,749.5 494.1,749.4 494.6,749.2 495.1,748.7 495.6,747.5 496.2,744.7 496.7,739.3 497.2,729.4 497.7,714.0 498.2,692.9 498.7,667.5 499.2,640.8 499.7,616.5 500.3,597.8 500.8,586.2 501.3,581.3 501.7,580.6 501.8,580.6 502.3,582.8 502.8,590.8 503.3,605.9 503.9,627.6 504.4,653.4 504.9,679.8 505.4,703.0 505.9,720.5 506.4,730.9 506.9,734.3 507.4,731.8 508.0,725.5 508.5,718.2 509.0,712.6 509.5,709.7 510.0,709.2 510.0,709.2 510.5,710.0 511.0,713.2 511.5,719.2 512.1,727.2 512.6,734.9 513.1,740.2 513.6,741.3 514.1,737.5 514.6,728.4 515.1,714.1 515.7,695.8 516.2,675.7 516.7,657.0 517.2,642.3 517.7,633.1 518.2,629.2 518.6,628.8 518.7,628.8 519.2,630.7 519.8,637.2 520.3,649.3 520.8,666.5 521.3,686.4 521.8,706.1 522.3,722.8 522.8,735.1 523.4,742.9 523.9,747.2 524.4,749.3 524.9,750.1 525.4,750.3 525.9,750.3 526.4,749.8 526.9,748.5 527.5,745.6 528.0,739.8 528.5,729.9 529.0,715.4 529.5,697.1 530.0,677.2 530.5,658.5 531.1,643.9 531.6,634.8 532.1,631.0 532.5,630.6 532.6,630.6 533.1,632.5 533.6,639.0 534.1,651.2 534.6,668.3 535.2,688.2 535.7,707.8 536.2,724.6 536.7,736.9 537.2,744.6 537.7,748.7 538.2,750.2 538.7,750.0 539.3,748.6 539.8,746.4 540.3,743.7 540.8,741.0 541.3,739.1 541.8,738.5 541.8,738.5 542.3,739.3 542.9,741.5 543.4,744.3 543.9,747.0 544.4,748.8 544.9,748.7 545.4,745.9 545.9,739.7 546.4,730.3 547.0,719.1 547.5,708.4 548.0,700.3 548.5,695.8 549.0,694.6 549.1,694.6 549.5,695.0 550.0,697.8 550.6,704.3 551.1,714.1 551.6,725.6 552.1,736.5 552.6,745.0 553.1,750.5 553.6,753.4 554.1,754.6 554.7,754.9 555.2,754.9 555.7,754.6 556.2,754.4 556.7,754.2 557.0,754.2 557.2,754.2 557.7,754.3 558.3,754.4 558.8,754.2 559.3,753.1 559.8,750.3 560.3,744.9 560.8,736.3 561.3,725.4 561.8,713.8 562.4,704.0 562.9,697.5 563.4,694.8 563.8,694.4 563.9,694.4 564.4,695.8 564.9,700.4 565.4,708.8 565.9,719.8 566.5,731.4 567.0,741.4 567.5,748.6 568.0,752.8 568.5,754.9 569.0,755.7 569.5,755.8 570.1,755.5 570.6,755.0 571.1,754.4 571.6,753.9 572.1,753.6 572.4,753.6 572.6,753.8 573.1,754.2 573.6,755.0 574.2,755.7 574.7,756.3 575.2,756.4 575.7,756.1 576.2,755.2 576.7,753.7 577.2,751.6 577.8,749.3 578.3,747.2 578.8,745.6 579.3,745.1 579.3,745.1 579.8,745.7 580.3,747.3 580.8,749.5 581.3,751.9 581.9,754.1 582.4,755.7 582.9,756.9 583.4,757.7 583.9,758.1 584.4,758.4 584.9,758.5 585.5,758.6 586.0,758.6 586.5,758.6 587.0,758.7 587.5,758.7 588.0,758.6 588.5,758.6 589.0,758.5 589.6,758.3 590.1,758.0 590.6,757.5 591.1,756.6 591.6,755.4 592.1,754.0 592.6,752.4 593.1,751.0 593.7,750.1 594.0,749.9 594.2,749.9 594.7,750.4 595.2,751.5 595.7,752.8 596.2,754.1 596.7,755.0 597.3,755.4 597.8,755.4 598.3,755.0 598.8,754.5 599.3,754.1 599.8,754.0 599.8,754.0 600.3,754.2 600.8,754.8 601.4,755.6 601.9,756.4 602.4,757.1 602.9,757.7 603.4,758.1 603.9,758.3 604.4,758.4 605.0,758.4 605.5,758.3 606.0,758.1 606.5,757.9 607.0,757.6 607.5,757.3 608.0,757.0 608.5,756.7 609.1,756.5 609.6,756.4 610.0,756.3 610.1,756.3 610.6,756.4 611.1,756.6 611.6,756.9 612.1,757.2 612.6,757.5 613.2,757.8 613.7,758.1 614.2,758.3 614.7,758.5 615.2,758.6 615.7,758.7 616.2,758.8 616.8,758.8 617.3,758.8 617.8,758.8 618.3,758.8 618.8,758.8 619.3,758.7 619.8,758.7 620.3,758.6 620.9,758.4 621.4,758.2 621.9,757.8 622.4,757.3 622.9,756.6 623.4,755.9 623.9,755.0 624.5,754.3 625.0,753.6 625.5,753.2 625.9,753.1 626.0,753.1 626.5,753.4 627.0,753.9 627.5,754.6 628.0,755.4 628.6,756.2 629.1,757.0 629.6,757.5 630.1,757.9 630.6,758.2 631.1,758.4 631.6,758.5 632.2,758.5 632.7,758.4 633.2,758.2 633.7,758.0 634.2,757.7 634.7,757.4 635.2,757.1 635.7,756.9 636.3,756.7 636.6,756.7 636.8,756.7 637.3,756.8 637.8,757.0 638.3,757.3 638.8,757.6 639.3,757.9 639.8,758.2 640.4,758.4 640.9,758.6 641.4,758.7 641.9,758.8 642.4,758.8 642.9,758.9 643.4,758.9 644.0,758.9 644.5,758.9 645.0,758.9 645.5,758.9 646.0,758.9 646.5,758.8 647.0,758.8 647.5,758.7 648.1,758.6 648.6,758.4 649.1,758.3 649.6,758.1 650.1,757.8 650.6,757.6 651.1,757.4 651.7,757.3 652.2,757.2 652.4,757.2 652.7,757.2 653.2,757.3 653.7,757.4 654.2,757.6 654.7,757.9 655.2,758.1 655.8,758.3 656.3,758.5 656.8,758.6 657.3,758.7 657.8,758.8 658.3,758.9 658.8,758.9 659.4,758.9 659.9,758.9 660.4,758.9 660.9,759.0 661.4,759.0 661.9,759.0 662.4,759.0 662.9,759.0 663.5,759.0 664.0,759.0 664.5,759.0 665.0,759.0 665.5,759.0 666.0,759.0 666.5,759.0 667.0,759.0 667.6,759.0 668.1,759.0 668.6,759.0 669.1,759.0 669.6,759.0 670.1,759.0 670.6,759.0 671.2,759.0 671.7,759.0 672.2,759.0 672.7,759.0 673.2,759.0 673.7,759.0 674.2,759.0 674.7,759.0 675.3,759.0 675.8,759.0 676.3,759.0 676.8,759.0 677.3,759.0 677.8,759.0 678.3,759.0 678.9,759.0 679.4,759.0 679.9,759.0 680.4,759.0 680.9,759.0 681.4,759.0 681.9,759.0 682.4,759.0 683.0,759.0 683.5,759.0 684.0,759.0 684.5,759.0 685.0,759.0 685.5,759.0 686.0,759.0 686.6,759.0 687.1,759.0 687.6,759.0 688.1,759.0 688.6,759.0 689.1,759.0 689.6,759.0 690.1,759.0 690.7,759.0 691.2,759.0" fill="none" stroke="#000" stroke-width="1.15" stroke-linejoin="round"/>
<polyline points="85.1,758.7 85.6,758.7 86.1,758.7 86.6,758.7 87.1,758.7 87.6,758.7 88.2,758.7 88.7,758.7 89.2,758.7 89.7,758.7 90.2,758.7 90.7,758.7 91.2,758.7 91.8,758.7 92.3,758.7 92.8,758.7 93.3,758.7 93.8,758.7 94.3,758.7 94.8,758.7 95.3,758.7 95.9,758.7 96.4,758.7 96.9,758.7 97.4,758.7 97.9,758.7 98.4,758.7 98.9,758.7 99.4,758.7 100.0,758.7 100.5,758.7 101.0,758.7 101.5,758.7 102.0,758.7 102.5,758.7 103.0,758.7 103.6,758.7 104.1,758.7 104.6,758.7 105.1,758.7 105.6,758.7 106.1,758.7 106.6,758.7 107.1,758.7 107.7,758.7 108.2,758.7 108.7,758.7 109.2,758.7 109.7,758.7 110.2,758.7 110.7,758.7 111.3,758.7 111.8,758.7 112.3,758.7 112.8,758.7 113.3,758.7 113.8,758.7 114.3,758.7 114.8,758.7 115.4,758.7 115.9,758.7 116.4,758.7 116.9,758.7 117.4,758.7 117.9,758.7 118.4,758.7 119.0,758.7 119.5,758.7 120.0,758.7 120.5,758.7 121.0,758.7 121.5,758.7 122.0,758.7 122.5,758.7 123.1,758.7 123.6,758.7 124.1,758.7 124.6,758.7 125.1,758.7 125.6,758.7 126.1,758.7 126.6,758.7 127.2,758.7 127.7,758.7 128.2,758.7 128.7,758.7 129.2,758.7 129.7,758.7 130.2,758.7 130.8,758.7 131.3,758.7 131.8,758.7 132.3,758.7 132.8,758.7 133.3,758.7 133.8,758.7 134.3,758.7 134.9,758.7 135.4,758.7 135.9,758.7 136.4,758.7 136.9,758.7 137.4,758.7 137.9,758.7 138.5,758.7 139.0,758.7 139.5,758.7 140.0,758.7 140.5,758.7 141.0,758.7 141.5,758.7 142.0,758.7 142.6,758.7 143.1,758.7 143.6,758.7 144.1,758.7 144.6,758.7 145.1,758.7 145.6,758.7 146.2,758.7 146.7,758.7 147.2,758.7 147.7,758.7 148.2,758.7 148.7,758.7 149.2,758.7 149.7,758.7 150.3,758.7 150.8,758.7 151.3,758.7 151.8,758.7 152.3,758.7 152.8,758.7 153.3,758.7 153.8,758.7 154.4,758.7 154.9,758.7 155.4,758.7 155.9,758.7 156.4,758.7 156.9,758.7 157.4,758.7 158.0,758.7 158.5,758.7 159.0,758.7 159.5,758.7 160.0,758.7 160.5,758.7 161.0,758.7 161.5,758.7 162.1,758.7 162.6,758.7 163.1,758.7 163.6,758.7 164.1,758.7 164.6,758.7 165.1,758.7 165.7,758.7 166.2,758.7 166.7,758.7 167.2,758.7 167.7,758.7 168.2,758.7 168.7,758.7 169.2,758.7 169.8,758.7 170.3,758.7 170.8,758.7 171.3,758.7 171.8,758.7 172.3,758.7 172.8,758.7 173.4,758.7 173.9,758.7 174.4,758.7 174.9,758.7 175.4,758.7 175.9,758.7 176.4,758.7 176.9,758.7 177.5,758.7 178.0,758.7 178.5,758.7 179.0,758.7 179.5,758.7 180.0,758.7 180.5,758.7 181.0,758.7 181.6,758.7 182.1,758.7 182.6,758.7 183.1,758.7 183.6,758.7 184.1,758.7 184.6,758.7 185.2,758.7 185.7,758.7 186.2,758.7 186.7,758.7 187.2,758.7 187.7,758.7 188.2,758.7 188.7,758.7 189.3,758.7 189.8,758.7 190.3,758.7 190.8,758.7 191.3,758.7 191.8,758.7 192.3,758.7 192.9,758.7 193.4,758.7 193.9,758.7 194.4,758.7 194.9,758.7 195.4,758.7 195.9,758.7 196.4,758.7 197.0,758.7 197.5,758.7 198.0,758.7 198.5,758.7 199.0,758.7 199.5,758.7 200.0,758.7 200.6,758.7 201.1,758.7 201.6,758.7 202.1,758.7 202.6,758.7 203.1,758.7 203.6,758.7 204.1,758.7 204.7,758.7 205.2,758.7 205.7,758.7 206.2,758.7 206.7,758.7 207.2,758.7 207.7,758.7 208.2,758.7 208.8,758.7 209.3,758.7 209.8,758.7 210.3,758.7 210.8,758.7 211.3,758.7 211.8,758.7 212.4,758.7 212.9,758.7 213.4,758.7 213.9,758.7 214.4,758.7 214.9,758.7 215.4,758.7 215.9,758.7 216.5,758.7 217.0,758.7 217.5,758.7 218.0,758.7 218.5,758.7 219.0,758.7 219.5,758.7 220.1,758.7 220.6,758.7 221.1,758.7 221.6,758.7 222.1,758.7 222.6,758.7 223.1,758.7 223.6,758.7 224.2,758.7 224.7,758.7 225.2,758.7 225.7,758.7 226.2,758.7 226.7,758.7 227.2,758.7 227.7,758.7 228.3,758.7 228.8,758.7 229.3,758.7 229.8,758.7 230.3,758.7 230.8,758.7 231.3,758.7 231.9,758.7 232.4,758.7 232.9,758.7 233.4,758.7 233.9,758.7 234.4,758.7 234.9,758.7 235.4,758.7 236.0,758.7 236.5,758.7 237.0,758.7 237.5,758.7 238.0,758.7 238.5,758.7 239.0,758.7 239.6,758.7 240.1,758.7 240.6,758.7 241.1,758.7 241.6,758.7 242.1,758.7 242.6,758.7 243.1,758.7 243.7,758.7 244.2,758.7 244.7,758.7 245.2,758.7 245.7,758.7 246.2,758.7 246.7,758.7 247.3,758.7 247.8,758.7 248.3,758.7 248.8,758.7 249.3,758.7 249.8,758.7 250.3,758.7 250.8,758.7 251.4,758.7 251.9,758.7 252.4,758.7 252.9,758.7 253.4,758.7 253.9,758.7 254.4,758.7 254.9,758.7 255.5,758.7 256.0,758.7 256.5,758.7 257.0,758.7 257.5,758.7 258.0,758.7 258.5,758.7 259.1,758.7 259.6,758.7 260.1,758.7 260.6,758.7 261.1,758.7 261.6,758.7 262.1,758.7 262.6,758.7 263.2,758.7 263.7,758.7 264.2,758.7 264.7,758.7 265.2,758.7 265.7,758.7 266.2,758.7 266.8,758.7 267.3,758.7 267.8,758.7 268.3,758.7 268.8,758.7 269.3,758.7 269.8,758.7 270.3,758.7 270.9,758.7 271.4,758.7 271.9,758.7 272.4,758.7 272.9,758.7 273.4,758.7 273.9,758.7 274.5,758.7 275.0,758.7 275.5,758.7 276.0,758.7 276.5,758.7 277.0,758.7 277.5,758.7 278.0,758.7 278.6,758.7 279.1,758.7 279.6,758.7 280.1,758.7 280.6,758.7 281.1,758.7 281.6,758.7 282.1,758.7 282.7,758.7 283.2,758.7 283.7,758.7 284.2,758.7 284.7,758.7 285.2,758.7 285.7,758.7 286.3,758.7 286.8,758.7 287.3,758.7 287.8,758.7 288.3,758.7 288.8,758.7 289.3,758.7 289.8,758.7 290.4,758.7 290.9,758.7 291.4,758.7 291.9,758.7 292.4,758.7 292.9,758.7 293.4,758.7 294.0,758.7 294.5,758.7 295.0,758.7 295.5,758.7 296.0,758.7 296.5,758.7 297.0,758.7 297.5,758.7 298.1,758.7 298.6,758.7 299.1,758.7 299.6,758.7 300.1,758.4 300.6,757.4 301.1,754.1 301.7,744.9 302.2,725.8 302.7,695.6 303.2,661.1 303.7,637.4 304.0,634.0 304.2,637.4 304.7,661.1 305.2,695.6 305.8,725.8 306.3,744.9 306.8,754.1 307.3,757.4 307.8,758.4 308.3,758.7 308.8,758.7 309.3,758.7 309.9,758.7 310.4,758.7 310.9,758.7 311.4,758.7 311.9,758.7 312.4,758.7 312.9,758.7 313.5,758.7 314.0,758.7 314.5,758.7 315.0,758.7 315.5,758.7 316.0,758.7 316.5,758.7 317.0,758.7 317.6,758.7 318.1,758.7 318.6,758.7 319.1,758.7 319.6,758.7 320.1,758.7 320.6,758.7 321.2,758.7 321.7,758.7 322.2,758.7 322.7,758.7 323.2,758.7 323.7,758.7 324.2,758.7 324.7,758.7 325.3,758.7 325.8,758.7 326.3,758.7 326.8,758.7 327.3,758.7 327.8,758.7 328.3,758.7 328.9,758.7 329.4,758.7 329.9,758.7 330.4,758.7 330.9,758.7 331.4,758.7 331.9,758.6 332.4,758.4 333.0,757.2 333.5,753.3 334.0,742.6 334.5,720.2 335.0,684.7 335.5,644.4 336.0,616.6 336.3,612.7 336.5,616.6 337.1,644.4 337.6,684.7 338.1,720.2 338.6,742.6 339.1,753.3 339.6,757.2 340.1,758.4 340.7,758.6 341.2,758.7 341.7,758.7 342.2,758.7 342.7,758.7 343.2,758.7 343.7,758.7 344.2,758.7 344.8,758.7 345.3,758.7 345.8,758.7 346.3,758.7 346.8,758.7 347.3,758.7 347.8,758.7 348.4,758.7 348.9,758.7 349.4,758.7 349.9,758.7 350.4,758.7 350.9,758.7 351.4,758.7 351.9,758.7 352.5,758.7 353.0,758.7 353.5,758.7 354.0,758.7 354.5,758.7 355.0,758.7 355.5,758.7 356.0,758.7 356.6,758.7 357.1,758.7 357.6,758.7 358.1,758.7 358.6,758.7 359.1,758.7 359.6,758.7 360.2,758.7 360.7,758.7 361.2,758.7 361.7,758.7 362.2,758.7 362.7,758.7 363.2,758.7 363.7,758.7 364.3,758.7 364.8,758.7 365.3,758.7 365.8,758.7 366.3,758.7 366.8,758.7 367.3,758.7 367.9,758.7 368.4,758.7 368.9,758.7 369.4,758.7 369.9,758.7 370.4,758.7 370.9,758.7 371.4,758.7 372.0,758.7 372.5,758.7 373.0,758.7 373.5,758.7 374.0,758.7 374.5,758.7 375.0,758.7 375.6,758.7 376.1,758.7 376.6,758.7 377.1,758.7 377.6,758.7 378.1,758.7 378.6,758.7 379.1,758.7 379.7,758.7 380.2,758.7 380.7,758.7 381.2,758.7 381.7,758.7 382.2,758.7 382.7,758.7 383.2,758.7 383.8,758.7 384.3,758.7 384.8,758.7 385.3,758.7 385.8,758.7 386.3,758.7 386.8,758.7 387.4,758.7 387.9,758.7 388.4,758.7 388.9,758.7 389.4,758.7 389.9,758.7 390.4,758.7 390.9,758.7 391.5,758.7 392.0,758.7 392.5,758.7 393.0,758.7 393.5,758.7 394.0,758.7 394.5,758.7 395.1,758.7 395.6,758.7 396.1,758.7 396.6,758.7 397.1,758.7 397.6,758.6 398.1,758.2 398.6,756.4 399.2,750.8 399.7,736.6 400.2,708.7 400.7,667.6 401.2,625.4 401.7,601.8 401.9,600.7 402.2,610.1 402.8,645.5 403.3,689.3 403.8,724.5 404.3,745.1 404.8,754.4 405.3,757.6 405.8,758.5 406.3,758.7 406.9,758.7 407.4,758.7 407.9,758.7 408.4,758.7 408.9,758.7 409.4,758.7 409.9,758.7 410.4,758.7 411.0,758.7 411.5,758.7 412.0,758.7 412.5,758.7 413.0,758.7 413.5,758.7 414.0,758.7 414.6,758.7 415.1,758.7 415.6,758.7 416.1,758.7 416.6,758.7 417.1,758.7 417.6,758.7 418.1,758.7 418.7,758.7 419.2,758.7 419.7,758.7 420.2,758.7 420.7,758.7 421.2,758.7 421.7,758.7 422.3,758.7 422.8,758.7 423.3,758.7 423.8,758.7 424.3,758.7 424.8,758.7 425.3,758.7 425.8,758.7 426.4,758.7 426.9,758.7 427.4,758.7 427.9,758.7 428.4,758.7 428.9,758.7 429.4,758.7 430.0,758.7 430.5,758.7 431.0,758.6 431.5,758.0 432.0,756.0 432.5,749.9 433.0,735.0 433.5,706.1 434.1,663.1 434.6,616.3 435.1,585.0 435.3,580.6 435.6,585.0 436.1,616.3 436.6,663.1 437.1,706.1 437.6,735.0 438.2,749.9 438.7,756.0 439.2,758.0 439.7,758.6 440.2,758.7 440.7,758.7 441.2,758.7 441.8,758.7 442.3,758.7 442.8,758.7 443.3,758.7 443.8,758.7 444.3,758.7 444.8,758.7 445.3,758.7 445.9,758.7 446.4,758.7 446.9,758.7 447.4,758.7 447.9,758.7 448.4,758.7 448.9,758.7 449.5,758.7 450.0,758.7 450.5,758.7 451.0,758.7 451.5,758.7 452.0,758.7 452.5,758.7 453.0,758.7 453.6,758.7 454.1,758.7 454.6,758.7 455.1,758.7 455.6,758.7 456.1,758.7 456.6,758.7 457.2,758.7 457.7,758.7 458.2,758.7 458.7,758.7 459.2,758.7 459.7,758.7 460.2,758.7 460.7,758.7 461.3,758.7 461.8,758.7 462.3,758.7 462.8,758.7 463.3,758.7 463.8,758.7 464.3,758.7 464.8,758.7 465.4,758.7 465.9,758.7 466.4,758.7 466.9,758.7 467.4,758.7 467.9,758.7 468.4,758.7 469.0,758.7 469.5,758.7 470.0,758.7 470.5,758.7 471.0,758.7 471.5,758.7 472.0,758.7 472.5,758.7 473.1,758.7 473.6,758.7 474.1,758.7 474.6,758.7 475.1,758.7 475.6,758.7 476.1,758.7 476.7,758.7 477.2,758.7 477.7,758.7 478.2,758.7 478.7,758.7 479.2,758.7 479.7,758.7 480.2,758.7 480.8,758.7 481.3,758.7 481.8,758.7 482.3,758.7 482.8,758.7 483.3,758.7 483.8,758.7 484.3,758.7 484.9,758.7 485.4,758.7 485.9,758.7 486.4,758.7 486.9,758.7 487.4,758.7 487.9,758.7 488.5,758.7 489.0,758.7 489.5,758.7 490.0,758.7 490.5,758.7 491.0,758.7 491.5,758.7 492.0,758.7 492.6,758.7 493.1,758.7 493.6,758.7 494.1,758.7 494.6,758.7 495.1,758.7 495.6,758.7 496.2,758.7 496.7,758.7 497.2,758.7 497.7,758.7 498.2,758.7 498.7,758.7 499.2,758.7 499.7,758.7 500.3,758.7 500.8,758.7 501.3,758.7 501.8,758.7 502.3,758.7 502.8,758.7 503.3,758.7 503.9,758.7 504.4,758.7 504.9,758.7 505.4,758.7 505.9,758.7 506.4,758.7 506.9,758.7 507.4,758.7 508.0,758.7 508.5,758.7 509.0,758.7 509.5,758.7 510.0,758.7 510.5,758.7 511.0,758.7 511.5,758.7 512.1,758.7 512.6,758.7 513.1,758.7 513.6,758.7 514.1,758.7 514.6,758.7 515.1,758.7 515.7,758.7 516.2,758.7 516.7,758.7 517.2,758.7 517.7,758.7 518.2,758.7 518.7,758.7 519.2,758.7 519.8,758.7 520.3,758.7 520.8,758.7 521.3,758.7 521.8,758.7 522.3,758.7 522.8,758.7 523.4,758.7 523.9,758.7 524.4,758.7 524.9,758.7 525.4,758.7 525.9,758.7 526.4,758.7 526.9,758.7 527.5,758.7 528.0,758.7 528.5,758.7 529.0,758.7 529.5,758.7 530.0,758.7 530.5,758.7 531.1,758.7 531.6,758.7 532.1,758.7 532.6,758.7 533.1,758.7 533.6,758.7 534.1,758.7 534.6,758.7 535.2,758.7 535.7,758.7 536.2,758.7 536.7,758.7 537.2,758.7 537.7,758.7 538.2,758.7 538.7,758.7 539.3,758.7 539.8,758.7 540.3,758.7 540.8,758.7 541.3,758.7 541.8,758.7 542.3,758.7 542.9,758.7 543.4,758.7 543.9,758.7 544.4,758.7 544.9,758.7 545.4,758.7 545.9,758.7 546.4,758.7 547.0,758.7 547.5,758.7 548.0,758.7 548.5,758.7 549.0,758.7 549.5,758.7 550.0,758.7 550.6,758.7 551.1,758.7 551.6,758.7 552.1,758.7 552.6,758.7 553.1,758.7 553.6,758.7 554.1,758.7 554.7,758.7 555.2,758.7 555.7,758.7 556.2,758.7 556.7,758.7 557.2,758.7 557.7,758.7 558.3,758.7 558.8,758.7 559.3,758.7 559.8,758.7 560.3,758.7 560.8,758.7 561.3,758.7 561.8,758.7 562.4,758.7 562.9,758.7 563.4,758.7 563.9,758.7 564.4,758.7 564.9,758.7 565.4,758.7 565.9,758.7 566.5,758.7 567.0,758.7 567.5,758.7 568.0,758.7 568.5,758.7 569.0,758.7 569.5,758.7 570.1,758.7 570.6,758.7 571.1,758.7 571.6,758.7 572.1,758.7 572.6,758.7 573.1,758.7 573.6,758.7 574.2,758.7 574.7,758.7 575.2,758.7 575.7,758.7 576.2,758.7 576.7,758.7 577.2,758.7 577.8,758.7 578.3,758.7 578.8,758.7 579.3,758.7 579.8,758.7 580.3,758.7 580.8,758.7 581.3,758.7 581.9,758.7 582.4,758.7 582.9,758.7 583.4,758.7 583.9,758.7 584.4,758.7 584.9,758.7 585.5,758.7 586.0,758.7 586.5,758.7 587.0,758.7 587.5,758.7 588.0,758.7 588.5,758.7 589.0,758.7 589.6,758.7 590.1,758.7 590.6,758.7 591.1,758.7 591.6,758.7 592.1,758.7 592.6,758.7 593.1,758.7 593.7,758.7 594.2,758.7 594.7,758.7 595.2,758.7 595.7,758.7 596.2,758.7 596.7,758.7 597.3,758.7 597.8,758.7 598.3,758.7 598.8,758.7 599.3,758.7 599.8,758.7 600.3,758.7 600.8,758.7 601.4,758.7 601.9,758.7 602.4,758.7 602.9,758.7 603.4,758.7 603.9,758.7 604.4,758.7 605.0,758.7 605.5,758.7 606.0,758.7 606.5,758.7 607.0,758.7 607.5,758.7 608.0,758.7 608.5,758.7 609.1,758.7 609.6,758.7 610.1,758.7 610.6,758.7 611.1,758.7 611.6,758.7 612.1,758.7 612.6,758.7 613.2,758.7 613.7,758.7 614.2,758.7 614.7,758.7 615.2,758.7 615.7,758.7 616.2,758.7 616.8,758.7 617.3,758.7 617.8,758.7 618.3,758.7 618.8,758.7 619.3,758.7 619.8,758.7 620.3,758.7 620.9,758.7 621.4,758.7 621.9,758.7 622.4,758.7 622.9,758.7 623.4,758.7 623.9,758.7 624.5,758.7 625.0,758.7 625.5,758.7 626.0,758.7 626.5,758.7 627.0,758.7 627.5,758.7 628.0,758.7 628.6,758.7 629.1,758.7 629.6,758.7 630.1,758.7 630.6,758.7 631.1,758.7 631.6,758.7 632.2,758.7 632.7,758.7 633.2,758.7 633.7,758.7 634.2,758.7 634.7,758.7 635.2,758.7 635.7,758.7 636.3,758.7 636.8,758.7 637.3,758.7 637.8,758.7 638.3,758.7 638.8,758.7 639.3,758.7 639.8,758.7 640.4,758.7 640.9,758.7 641.4,758.7 641.9,758.7 642.4,758.7 642.9,758.7 643.4,758.7 644.0,758.7 644.5,758.7 645.0,758.7 645.5,758.7 646.0,758.7 646.5,758.7 647.0,758.7 647.5,758.7 648.1,758.7 648.6,758.7 649.1,758.7 649.6,758.7 650.1,758.7 650.6,758.7 651.1,758.7 651.7,758.7 652.2,758.7 652.7,758.7 653.2,758.7 653.7,758.7 654.2,758.7 654.7,758.7 655.2,758.7 655.8,758.7 656.3,758.7 656.8,758.7 657.3,758.7 657.8,758.7 658.3,758.7 658.8,758.7 659.4,758.7 659.9,758.7 660.4,758.7 660.9,758.7 661.4,758.7 661.9,758.7 662.4,758.7 662.9,758.7 663.5,758.7 664.0,758.7 664.5,758.7 665.0,758.7 665.5,758.7 666.0,758.7 666.5,758.7 667.0,758.7 667.6,758.7 668.1,758.7 668.6,758.7 669.1,758.7 669.6,758.7 670.1,758.7 670.6,758.7 671.2,758.7 671.7,758.7 672.2,758.7 672.7,758.7 673.2,758.7 673.7,758.7 674.2,758.7 674.7,758.7 675.3,758.7 675.8,758.7 676.3,758.7 676.8,758.7 677.3,758.7 677.8,758.7 678.3,758.7 678.9,758.7 679.4,758.7 679.9,758.7 680.4,758.7 680.9,758.7 681.4,758.7 681.9,758.7 682.4,758.7 683.0,758.7 683.5,758.7 684.0,758.7 684.5,758.7 685.0,758.7 685.5,758.7 686.0,758.7 686.6,758.7 687.1,758.7 687.6,758.7 688.1,758.7 688.6,758.7 689.1,758.7 689.6,758.7 690.1,758.7 690.7,758.7 691.2,758.7" fill="none" stroke="#f00" stroke-width="1.15" stroke-linejoin="round"/>
<text x="92.83" y="731.8" font-size="17.5" text-anchor="start" fill="#000" >Chl</text>
<text x="285.3" y="621.9" font-size="18" fill="#f00">C<tspan font-size="9.7" dx="0.3" dy="6.0">16:1</tspan></text>
<text x="321" y="596.6" font-size="18" fill="#f00">C<tspan font-size="9.7" dx="0.3" dy="6.0">18:1</tspan></text>
<text x="382.2" y="587.6" font-size="18" fill="#f00">C<tspan font-size="9.7" dx="0.3" dy="6.0">22:1</tspan></text>
<text x="419" y="568.8" font-size="18" fill="#f00">C<tspan font-size="9.7" dx="0.3" dy="6.0">24:1</tspan></text>
<text x="693.38" y="623.9" font-size="26.3" font-style="italic" fill="#000" stroke="#000" stroke-width="0.3">d</text>
<line x1="692.5" y1="629.8" x2="707.3" y2="629.8" stroke="#000" stroke-width="2.0"/>
<line x1="85.3" y1="836.6" x2="85.3" y2="1016.05" stroke="#000" stroke-width="1.45"/>
<line x1="77" y1="1015.3" x2="85.3" y2="1015.3" stroke="#000" stroke-width="1.15"/>
<line x1="81.9" y1="997.49" x2="85.3" y2="997.49" stroke="#000" stroke-width="1.15"/>
<line x1="81.9" y1="979.68" x2="85.3" y2="979.68" stroke="#000" stroke-width="1.15"/>
<line x1="81.9" y1="961.87" x2="85.3" y2="961.87" stroke="#000" stroke-width="1.15"/>
<line x1="81.9" y1="944.06" x2="85.3" y2="944.06" stroke="#000" stroke-width="1.15"/>
<line x1="77.9" y1="926.25" x2="85.3" y2="926.25" stroke="#000" stroke-width="1.15"/>
<line x1="81.9" y1="908.44" x2="85.3" y2="908.44" stroke="#000" stroke-width="1.15"/>
<line x1="81.9" y1="890.63" x2="85.3" y2="890.63" stroke="#000" stroke-width="1.15"/>
<line x1="81.9" y1="872.82" x2="85.3" y2="872.82" stroke="#000" stroke-width="1.15"/>
<line x1="81.9" y1="855.01" x2="85.3" y2="855.01" stroke="#000" stroke-width="1.15"/>
<line x1="77" y1="837.2" x2="85.3" y2="837.2" stroke="#000" stroke-width="1.15"/>
<text x="76.76" y="842.1" font-size="12" text-anchor="end" fill="#111" >100</text>
<text x="76.73" y="1020.2" font-size="12" text-anchor="end" fill="#111" >0</text>
<text transform="translate(78,930.59) rotate(-90)" x="0" y="0" font-size="12" fill="#111">%</text>
<text transform="translate(55.2,964.32) rotate(-90)" x="0" y="0" font-size="16.1" fill="#111">Abundance</text>
<line x1="84.6" y1="1015.3" x2="690.7" y2="1015.3" stroke="#000" stroke-width="1.5"/>
<line x1="91.5" y1="1015.3" x2="91.5" y2="1019.9" stroke="#000" stroke-width="1.1"/>
<line x1="97.91" y1="1015.3" x2="97.91" y2="1019.9" stroke="#000" stroke-width="1.1"/>
<line x1="104.33" y1="1015.3" x2="104.33" y2="1024.1" stroke="#000" stroke-width="1.1"/>
<line x1="110.74" y1="1015.3" x2="110.74" y2="1019.9" stroke="#000" stroke-width="1.1"/>
<line x1="117.16" y1="1015.3" x2="117.16" y2="1019.9" stroke="#000" stroke-width="1.1"/>
<line x1="123.57" y1="1015.3" x2="123.57" y2="1019.9" stroke="#000" stroke-width="1.1"/>
<line x1="129.99" y1="1015.3" x2="129.99" y2="1019.9" stroke="#000" stroke-width="1.1"/>
<line x1="136.4" y1="1015.3" x2="136.4" y2="1024.1" stroke="#000" stroke-width="1.1"/>
<line x1="142.81" y1="1015.3" x2="142.81" y2="1019.9" stroke="#000" stroke-width="1.1"/>
<line x1="149.23" y1="1015.3" x2="149.23" y2="1019.9" stroke="#000" stroke-width="1.1"/>
<line x1="155.65" y1="1015.3" x2="155.65" y2="1019.9" stroke="#000" stroke-width="1.1"/>
<line x1="162.06" y1="1015.3" x2="162.06" y2="1019.9" stroke="#000" stroke-width="1.1"/>
<line x1="168.48" y1="1015.3" x2="168.48" y2="1024.1" stroke="#000" stroke-width="1.1"/>
<line x1="174.89" y1="1015.3" x2="174.89" y2="1019.9" stroke="#000" stroke-width="1.1"/>
<line x1="181.31" y1="1015.3" x2="181.31" y2="1019.9" stroke="#000" stroke-width="1.1"/>
<line x1="187.72" y1="1015.3" x2="187.72" y2="1019.9" stroke="#000" stroke-width="1.1"/>
<line x1="194.13" y1="1015.3" x2="194.13" y2="1019.9" stroke="#000" stroke-width="1.1"/>
<line x1="200.55" y1="1015.3" x2="200.55" y2="1024.1" stroke="#000" stroke-width="1.1"/>
<line x1="206.97" y1="1015.3" x2="206.97" y2="1019.9" stroke="#000" stroke-width="1.1"/>
<line x1="213.38" y1="1015.3" x2="213.38" y2="1019.9" stroke="#000" stroke-width="1.1"/>
<line x1="219.8" y1="1015.3" x2="219.8" y2="1019.9" stroke="#000" stroke-width="1.1"/>
<line x1="226.21" y1="1015.3" x2="226.21" y2="1019.9" stroke="#000" stroke-width="1.1"/>
<line x1="232.62" y1="1015.3" x2="232.62" y2="1024.1" stroke="#000" stroke-width="1.1"/>
<line x1="239.04" y1="1015.3" x2="239.04" y2="1019.9" stroke="#000" stroke-width="1.1"/>
<line x1="245.46" y1="1015.3" x2="245.46" y2="1019.9" stroke="#000" stroke-width="1.1"/>
<line x1="251.87" y1="1015.3" x2="251.87" y2="1019.9" stroke="#000" stroke-width="1.1"/>
<line x1="258.29" y1="1015.3" x2="258.29" y2="1019.9" stroke="#000" stroke-width="1.1"/>
<line x1="264.7" y1="1015.3" x2="264.7" y2="1024.1" stroke="#000" stroke-width="1.1"/>
<line x1="271.12" y1="1015.3" x2="271.12" y2="1019.9" stroke="#000" stroke-width="1.1"/>
<line x1="277.53" y1="1015.3" x2="277.53" y2="1019.9" stroke="#000" stroke-width="1.1"/>
<line x1="283.94" y1="1015.3" x2="283.94" y2="1019.9" stroke="#000" stroke-width="1.1"/>
<line x1="290.36" y1="1015.3" x2="290.36" y2="1019.9" stroke="#000" stroke-width="1.1"/>
<line x1="296.77" y1="1015.3" x2="296.77" y2="1024.1" stroke="#000" stroke-width="1.1"/>
<line x1="303.19" y1="1015.3" x2="303.19" y2="1019.9" stroke="#000" stroke-width="1.1"/>
<line x1="309.61" y1="1015.3" x2="309.61" y2="1019.9" stroke="#000" stroke-width="1.1"/>
<line x1="316.02" y1="1015.3" x2="316.02" y2="1019.9" stroke="#000" stroke-width="1.1"/>
<line x1="322.44" y1="1015.3" x2="322.44" y2="1019.9" stroke="#000" stroke-width="1.1"/>
<line x1="328.85" y1="1015.3" x2="328.85" y2="1024.1" stroke="#000" stroke-width="1.1"/>
<line x1="335.26" y1="1015.3" x2="335.26" y2="1019.9" stroke="#000" stroke-width="1.1"/>
<line x1="341.68" y1="1015.3" x2="341.68" y2="1019.9" stroke="#000" stroke-width="1.1"/>
<line x1="348.1" y1="1015.3" x2="348.1" y2="1019.9" stroke="#000" stroke-width="1.1"/>
<line x1="354.51" y1="1015.3" x2="354.51" y2="1019.9" stroke="#000" stroke-width="1.1"/>
<line x1="360.93" y1="1015.3" x2="360.93" y2="1024.1" stroke="#000" stroke-width="1.1"/>
<line x1="367.34" y1="1015.3" x2="367.34" y2="1019.9" stroke="#000" stroke-width="1.1"/>
<line x1="373.75" y1="1015.3" x2="373.75" y2="1019.9" stroke="#000" stroke-width="1.1"/>
<line x1="380.17" y1="1015.3" x2="380.17" y2="1019.9" stroke="#000" stroke-width="1.1"/>
<line x1="386.59" y1="1015.3" x2="386.59" y2="1019.9" stroke="#000" stroke-width="1.1"/>
<line x1="393" y1="1015.3" x2="393" y2="1024.1" stroke="#000" stroke-width="1.1"/>
<line x1="399.41" y1="1015.3" x2="399.41" y2="1019.9" stroke="#000" stroke-width="1.1"/>
<line x1="405.83" y1="1015.3" x2="405.83" y2="1019.9" stroke="#000" stroke-width="1.1"/>
<line x1="412.25" y1="1015.3" x2="412.25" y2="1019.9" stroke="#000" stroke-width="1.1"/>
<line x1="418.66" y1="1015.3" x2="418.66" y2="1019.9" stroke="#000" stroke-width="1.1"/>
<line x1="425.08" y1="1015.3" x2="425.08" y2="1024.1" stroke="#000" stroke-width="1.1"/>
<line x1="431.49" y1="1015.3" x2="431.49" y2="1019.9" stroke="#000" stroke-width="1.1"/>
<line x1="437.9" y1="1015.3" x2="437.9" y2="1019.9" stroke="#000" stroke-width="1.1"/>
<line x1="444.32" y1="1015.3" x2="444.32" y2="1019.9" stroke="#000" stroke-width="1.1"/>
<line x1="450.74" y1="1015.3" x2="450.74" y2="1019.9" stroke="#000" stroke-width="1.1"/>
<line x1="457.15" y1="1015.3" x2="457.15" y2="1024.1" stroke="#000" stroke-width="1.1"/>
<line x1="463.57" y1="1015.3" x2="463.57" y2="1019.9" stroke="#000" stroke-width="1.1"/>
<line x1="469.98" y1="1015.3" x2="469.98" y2="1019.9" stroke="#000" stroke-width="1.1"/>
<line x1="476.39" y1="1015.3" x2="476.39" y2="1019.9" stroke="#000" stroke-width="1.1"/>
<line x1="482.81" y1="1015.3" x2="482.81" y2="1019.9" stroke="#000" stroke-width="1.1"/>
<line x1="489.23" y1="1015.3" x2="489.23" y2="1024.1" stroke="#000" stroke-width="1.1"/>
<line x1="495.64" y1="1015.3" x2="495.64" y2="1019.9" stroke="#000" stroke-width="1.1"/>
<line x1="502.06" y1="1015.3" x2="502.06" y2="1019.9" stroke="#000" stroke-width="1.1"/>
<line x1="508.47" y1="1015.3" x2="508.47" y2="1019.9" stroke="#000" stroke-width="1.1"/>
<line x1="514.88" y1="1015.3" x2="514.88" y2="1019.9" stroke="#000" stroke-width="1.1"/>
<line x1="521.3" y1="1015.3" x2="521.3" y2="1024.1" stroke="#000" stroke-width="1.1"/>
<line x1="527.72" y1="1015.3" x2="527.72" y2="1019.9" stroke="#000" stroke-width="1.1"/>
<line x1="534.13" y1="1015.3" x2="534.13" y2="1019.9" stroke="#000" stroke-width="1.1"/>
<line x1="540.54" y1="1015.3" x2="540.54" y2="1019.9" stroke="#000" stroke-width="1.1"/>
<line x1="546.96" y1="1015.3" x2="546.96" y2="1019.9" stroke="#000" stroke-width="1.1"/>
<line x1="553.38" y1="1015.3" x2="553.38" y2="1024.1" stroke="#000" stroke-width="1.1"/>
<line x1="559.79" y1="1015.3" x2="559.79" y2="1019.9" stroke="#000" stroke-width="1.1"/>
<line x1="566.21" y1="1015.3" x2="566.21" y2="1019.9" stroke="#000" stroke-width="1.1"/>
<line x1="572.62" y1="1015.3" x2="572.62" y2="1019.9" stroke="#000" stroke-width="1.1"/>
<line x1="579.03" y1="1015.3" x2="579.03" y2="1019.9" stroke="#000" stroke-width="1.1"/>
<line x1="585.45" y1="1015.3" x2="585.45" y2="1024.1" stroke="#000" stroke-width="1.1"/>
<line x1="591.87" y1="1015.3" x2="591.87" y2="1019.9" stroke="#000" stroke-width="1.1"/>
<line x1="598.28" y1="1015.3" x2="598.28" y2="1019.9" stroke="#000" stroke-width="1.1"/>
<line x1="604.7" y1="1015.3" x2="604.7" y2="1019.9" stroke="#000" stroke-width="1.1"/>
<line x1="611.11" y1="1015.3" x2="611.11" y2="1019.9" stroke="#000" stroke-width="1.1"/>
<line x1="617.52" y1="1015.3" x2="617.52" y2="1024.1" stroke="#000" stroke-width="1.1"/>
<line x1="623.94" y1="1015.3" x2="623.94" y2="1019.9" stroke="#000" stroke-width="1.1"/>
<line x1="630.36" y1="1015.3" x2="630.36" y2="1019.9" stroke="#000" stroke-width="1.1"/>
<line x1="636.77" y1="1015.3" x2="636.77" y2="1019.9" stroke="#000" stroke-width="1.1"/>
<line x1="643.19" y1="1015.3" x2="643.19" y2="1019.9" stroke="#000" stroke-width="1.1"/>
<line x1="649.6" y1="1015.3" x2="649.6" y2="1024.1" stroke="#000" stroke-width="1.1"/>
<line x1="656.01" y1="1015.3" x2="656.01" y2="1019.9" stroke="#000" stroke-width="1.1"/>
<line x1="662.43" y1="1015.3" x2="662.43" y2="1019.9" stroke="#000" stroke-width="1.1"/>
<line x1="668.85" y1="1015.3" x2="668.85" y2="1019.9" stroke="#000" stroke-width="1.1"/>
<line x1="675.26" y1="1015.3" x2="675.26" y2="1019.9" stroke="#000" stroke-width="1.1"/>
<line x1="681.67" y1="1015.3" x2="681.67" y2="1024.1" stroke="#000" stroke-width="1.1"/>
<line x1="688.09" y1="1015.3" x2="688.09" y2="1019.9" stroke="#000" stroke-width="1.1"/>
<text x="124.7" y="1035.4" font-size="12" text-anchor="start" fill="#111" >5.00</text>
<text x="185.31" y="1035.4" font-size="12" text-anchor="start" fill="#111" >10.00</text>
<text x="249.46" y="1035.4" font-size="12" text-anchor="start" fill="#111" >15.00</text>
<text x="313.76" y="1035.4" font-size="12" text-anchor="start" fill="#111" >20.00</text>
<text x="377.91" y="1035.4" font-size="12" text-anchor="start" fill="#111" >25.00</text>
<text x="442.12" y="1035.4" font-size="12" text-anchor="start" fill="#111" >30.00</text>
<text x="506.27" y="1035.4" font-size="12" text-anchor="start" fill="#111" >35.00</text>
<text x="570.54" y="1035.4" font-size="12" text-anchor="start" fill="#111" >40.00</text>
<text x="634.69" y="1035.4" font-size="12" text-anchor="start" fill="#111" >45.00</text>
<text x="698.95" y="1020.2" font-size="12.5" text-anchor="start" fill="#111" >Time</text>
<polyline points="85.1,1015.3 85.6,1015.3 86.1,1015.3 86.6,1015.3 87.1,1015.3 87.6,1015.3 88.2,1015.3 88.7,1015.3 89.2,1015.3 89.7,1015.3 90.2,1015.3 90.7,1015.3 91.2,1015.3 91.8,1015.3 92.3,1015.3 92.8,1015.3 93.3,1015.3 93.8,1015.3 94.3,1015.3 94.8,1015.3 95.3,1015.3 95.9,1015.3 96.4,1015.3 96.9,1015.3 97.4,1015.3 97.9,1015.3 98.4,1015.3 98.9,1015.2 99.4,1015.2 100.0,1015.2 100.5,1015.1 101.0,1014.8 101.5,1014.3 102.0,1013.6 102.5,1012.9 103.0,1012.5 103.2,1012.5 103.6,1012.6 104.1,1013.2 104.6,1014.0 105.1,1014.6 105.6,1015.0 106.1,1015.1 106.6,1015.2 107.1,1015.2 107.7,1015.2 108.2,1015.3 108.7,1015.3 109.2,1015.3 109.7,1015.3 110.2,1015.3 110.7,1015.3 111.3,1015.3 111.8,1015.3 112.3,1015.3 112.8,1015.3 113.3,1015.3 113.8,1015.3 114.3,1015.3 114.8,1015.3 115.4,1015.3 115.9,1015.3 116.4,1015.3 116.9,1015.3 117.4,1015.3 117.9,1015.3 118.4,1015.3 119.0,1015.3 119.5,1015.3 120.0,1015.3 120.5,1015.3 121.0,1015.3 121.5,1015.3 122.0,1015.3 122.5,1015.3 123.1,1015.3 123.6,1015.3 124.1,1015.3 124.6,1015.3 125.1,1015.3 125.6,1015.3 126.1,1015.3 126.6,1015.3 127.2,1015.3 127.7,1015.3 128.2,1015.3 128.7,1015.3 129.2,1015.3 129.7,1015.3 130.2,1015.3 130.8,1015.3 131.3,1015.3 131.8,1015.3 132.3,1015.3 132.8,1015.3 133.3,1015.3 133.8,1015.3 134.3,1015.3 134.9,1015.3 135.4,1015.3 135.9,1015.3 136.4,1015.3 136.9,1015.3 137.4,1015.3 137.9,1015.3 138.5,1015.3 139.0,1015.3 139.5,1015.3 140.0,1015.3 140.5,1015.3 141.0,1015.3 141.5,1015.3 142.0,1015.3 142.6,1015.3 143.1,1015.3 143.6,1015.3 144.1,1015.3 144.6,1015.3 145.1,1015.3 145.6,1015.3 146.2,1015.3 146.7,1015.3 147.2,1015.3 147.7,1015.3 148.2,1015.3 148.7,1015.3 149.2,1015.3 149.7,1015.3 150.3,1015.3 150.8,1015.3 151.3,1015.3 151.8,1015.3 152.3,1015.3 152.8,1015.3 153.3,1015.3 153.8,1015.3 154.4,1015.3 154.9,1015.3 155.4,1015.3 155.9,1015.3 156.4,1015.3 156.9,1015.3 157.4,1015.3 158.0,1015.3 158.5,1015.3 159.0,1015.3 159.5,1015.3 160.0,1015.3 160.5,1015.3 161.0,1015.3 161.5,1015.3 162.1,1015.3 162.6,1015.3 163.1,1015.3 163.6,1015.3 164.1,1015.3 164.6,1015.3 165.1,1015.3 165.7,1015.3 166.2,1015.3 166.7,1015.3 167.2,1015.3 167.7,1015.3 168.2,1015.3 168.7,1015.3 169.2,1015.3 169.8,1015.3 170.3,1015.3 170.8,1015.3 171.3,1015.3 171.8,1015.3 172.3,1015.3 172.8,1015.3 173.4,1015.3 173.9,1015.3 174.4,1015.3 174.9,1015.3 175.4,1015.3 175.9,1015.3 176.4,1015.3 176.9,1015.3 177.5,1015.3 178.0,1015.3 178.5,1015.3 179.0,1015.3 179.5,1015.3 180.0,1015.3 180.5,1015.3 181.0,1015.3 181.6,1015.3 182.1,1015.3 182.6,1015.3 183.1,1015.3 183.6,1015.3 184.1,1015.3 184.6,1015.3 185.2,1015.3 185.7,1015.3 186.2,1015.3 186.7,1015.3 187.2,1015.3 187.7,1015.3 188.2,1015.3 188.7,1015.3 189.3,1015.3 189.8,1015.3 190.3,1015.3 190.8,1015.3 191.3,1015.3 191.8,1015.3 192.3,1015.3 192.9,1015.3 193.4,1015.3 193.9,1015.3 194.4,1015.3 194.9,1015.3 195.4,1015.3 195.9,1015.3 196.4,1015.3 197.0,1015.3 197.5,1015.3 198.0,1015.3 198.5,1015.3 199.0,1015.3 199.5,1015.3 200.0,1015.3 200.6,1015.3 201.1,1015.3 201.6,1015.3 202.1,1015.3 202.6,1015.3 203.1,1015.3 203.6,1015.3 204.1,1015.3 204.7,1015.3 205.2,1015.3 205.7,1015.3 206.2,1015.3 206.7,1015.3 207.2,1015.3 207.7,1015.3 208.2,1015.3 208.8,1015.3 209.3,1015.3 209.8,1015.3 210.3,1015.3 210.8,1015.3 211.3,1015.3 211.8,1015.3 212.4,1015.3 212.9,1015.3 213.4,1015.3 213.9,1015.3 214.4,1015.3 214.9,1015.3 215.4,1015.3 215.9,1015.3 216.5,1015.3 217.0,1015.3 217.5,1015.3 218.0,1015.3 218.5,1015.3 219.0,1015.3 219.5,1015.3 220.1,1015.3 220.6,1015.3 221.1,1015.3 221.6,1015.3 222.1,1015.3 222.6,1015.3 223.1,1015.3 223.6,1015.3 224.2,1015.3 224.7,1015.3 225.2,1015.3 225.7,1015.3 226.2,1015.3 226.7,1015.3 227.2,1015.3 227.7,1015.3 228.3,1015.3 228.8,1015.3 229.3,1015.3 229.8,1015.3 230.3,1015.3 230.8,1015.3 231.3,1015.3 231.9,1015.3 232.4,1015.3 232.9,1015.3 233.4,1015.3 233.9,1015.3 234.4,1015.3 234.9,1015.3 235.4,1015.3 236.0,1015.3 236.5,1015.3 237.0,1015.3 237.5,1015.3 238.0,1015.3 238.5,1015.3 239.0,1015.3 239.6,1015.2 240.1,1015.2 240.6,1015.2 241.1,1015.2 241.6,1015.2 242.1,1015.2 242.6,1015.2 243.1,1015.2 243.7,1015.1 244.2,1015.1 244.7,1015.1 245.2,1015.1 245.7,1015.0 246.2,1015.0 246.7,1015.0 247.3,1015.0 247.8,1014.9 248.3,1014.9 248.8,1014.9 249.3,1014.8 249.8,1014.8 250.3,1014.8 250.8,1014.7 251.4,1014.7 251.9,1014.7 252.4,1014.6 252.9,1014.6 253.4,1014.6 253.9,1014.5 254.4,1014.5 254.9,1014.5 255.5,1014.5 256.0,1014.5 256.5,1014.4 257.0,1014.4 257.5,1014.4 258.0,1014.4 258.3,1014.4 258.5,1014.4 259.1,1014.4 259.6,1014.4 260.1,1014.4 260.6,1014.4 261.1,1014.4 261.6,1014.4 262.1,1014.5 262.6,1014.5 263.2,1014.5 263.7,1014.5 264.2,1014.5 264.7,1014.5 265.2,1014.5 265.7,1014.5 266.2,1014.5 266.8,1014.5 267.3,1014.4 267.8,1014.4 268.3,1014.4 268.8,1014.3 269.3,1014.3 269.8,1014.2 270.3,1014.2 270.9,1014.1 271.4,1014.1 271.9,1014.0 272.4,1013.9 272.9,1013.9 273.4,1013.8 273.9,1013.7 274.5,1013.7 275.0,1013.6 275.5,1013.6 276.0,1013.6 276.5,1013.5 277.0,1013.5 277.5,1013.5 277.5,1013.5 278.0,1013.5 278.6,1013.5 279.1,1013.6 279.6,1013.6 280.1,1013.6 280.6,1013.7 281.1,1013.7 281.6,1013.8 282.1,1013.8 282.7,1013.8 283.2,1013.9 283.7,1013.9 284.2,1013.9 284.7,1013.8 285.2,1013.8 285.7,1013.8 286.3,1013.7 286.8,1013.7 287.3,1013.6 287.8,1013.5 288.3,1013.4 288.8,1013.4 289.3,1013.3 289.8,1013.2 290.4,1013.2 290.4,1013.2 290.9,1013.1 291.4,1013.0 291.9,1013.0 292.4,1012.8 292.9,1012.6 293.4,1012.3 294.0,1011.9 294.5,1011.3 295.0,1010.5 295.5,1009.4 296.0,1008.1 296.5,1006.5 296.8,1005.5 297.0,1004.5 297.5,1002.2 298.1,999.7 298.6,997.0 299.1,994.4 299.6,992.0 300.1,990.2 300.6,989.0 301.1,988.6 301.1,988.6 301.7,989.1 302.2,990.4 302.7,992.3 303.2,994.7 303.7,997.3 304.2,999.8 304.7,1002.3 305.2,1004.5 305.8,1006.4 305.8,1006.4 306.3,1008.1 306.8,1009.4 307.3,1010.5 307.8,1011.2 308.3,1011.4 308.8,1011.2 309.3,1010.3 309.9,1009.0 310.4,1007.4 310.9,1006.0 311.4,1005.0 311.8,1004.8 311.9,1004.8 312.4,1005.6 312.9,1007.0 313.5,1008.8 314.0,1010.5 314.5,1011.9 315.0,1013.0 315.5,1013.5 316.0,1013.6 316.5,1013.3 317.0,1012.7 317.6,1011.7 318.1,1010.6 318.6,1009.8 319.0,1009.6 319.1,1009.6 319.6,1009.9 320.1,1010.5 320.6,1011.1 321.2,1011.2 321.7,1010.8 322.2,1010.2 322.7,1009.7 322.9,1009.6 323.2,1009.6 323.7,1009.9 324.2,1010.4 324.7,1010.6 325.3,1010.5 325.8,1010.0 326.3,1009.2 326.8,1008.6 327.1,1008.4 327.3,1008.3 327.8,1008.4 328.3,1008.7 328.9,1009.1 329.4,1009.3 329.9,1009.0 330.4,1008.1 330.9,1005.9 331.4,1001.7 331.9,994.3 332.4,982.7 333.0,966.8 333.5,947.7 334.0,927.8 334.5,910.0 335.0,896.8 335.5,889.4 336.0,887.1 336.2,887.1 336.5,887.7 337.1,892.4 337.6,902.7 338.1,918.3 338.6,937.5 339.1,957.3 339.6,975.0 340.1,988.7 340.7,998.0 341.2,1003.7 341.3,1004.6 341.7,1006.7 342.2,1008.4 342.7,1009.3 343.2,1009.8 343.7,1010.3 344.2,1010.7 344.8,1011.0 345.3,1011.2 345.8,1011.5 346.3,1011.6 346.8,1011.7 347.3,1011.7 347.8,1011.2 348.4,1010.0 348.9,1007.6 349.4,1003.5 349.9,997.9 350.4,991.4 350.9,985.4 351.4,980.9 351.9,978.5 352.5,977.9 352.5,977.9 353.0,978.4 353.5,980.7 354.0,985.1 354.5,991.1 355.0,997.5 355.5,1003.0 356.0,1007.0 356.6,1009.3 357.1,1010.4 357.6,1010.8 358.1,1010.8 358.6,1010.6 359.1,1010.3 359.6,1010.0 360.2,1009.7 360.7,1009.3 361.2,1008.8 361.7,1007.9 362.2,1006.3 362.7,1003.2 363.2,997.6 363.7,988.3 364.3,974.6 364.8,956.8 365.3,936.2 365.8,915.5 366.3,897.4 366.8,884.2 367.3,876.9 367.9,874.6 368.0,874.6 368.4,875.3 368.9,879.9 369.4,890.1 369.9,906.0 370.4,925.8 370.9,946.8 371.4,966.3 372.0,982.1 372.3,991.1 372.5,993.6 373.0,1001.0 373.5,1005.2 374.0,1007.5 374.5,1008.7 375.0,1009.3 375.6,1009.8 376.1,1010.1 376.6,1010.5 377.1,1010.7 377.6,1010.9 378.1,1011.1 378.6,1011.2 379.1,1011.3 379.7,1011.3 380.2,1011.3 380.7,1011.2 381.2,1010.9 381.7,1010.0 382.2,1008.0 382.7,1004.0 383.2,997.2 383.8,987.3 384.3,975.6 384.8,964.0 385.3,954.8 385.8,949.4 386.3,947.7 386.5,947.6 386.8,948.1 387.4,951.4 387.9,958.7 388.4,969.2 388.9,981.0 389.4,991.9 389.9,1000.2 390.4,1005.4 390.9,1008.1 391.5,1009.3 392.0,1009.6 392.5,1009.7 393.0,1009.5 393.5,1009.3 394.0,1009.1 394.5,1008.7 395.1,1008.4 395.6,1008.0 396.1,1007.4 396.6,1006.6 397.1,1005.1 397.6,1002.3 398.1,997.0 398.6,987.7 399.2,973.2 399.7,953.1 400.2,928.5 400.7,901.9 401.2,876.9 401.7,856.8 402.2,843.8 402.8,838.0 403.1,837.2 403.3,837.3 403.8,840.1 404.3,849.4 404.8,866.1 405.3,888.9 405.8,915.2 406.3,941.2 406.9,963.8 407.4,981.1 407.9,992.8 408.4,999.9 408.9,1003.9 409.4,1005.9 409.9,1006.9 410.4,1007.5 411.0,1008.0 411.5,1008.3 412.0,1008.6 412.5,1008.8 413.0,1009.0 413.5,1009.1 413.5,1009.1 414.0,1009.2 414.6,1009.1 415.1,1008.9 415.6,1008.2 416.1,1006.6 416.6,1003.0 417.1,996.3 417.6,985.8 418.1,971.7 418.7,955.8 419.2,940.6 419.7,928.9 420.2,922.1 420.7,919.9 420.8,919.8 421.2,920.4 421.7,924.5 422.3,933.6 422.8,947.1 423.3,962.8 423.8,977.9 424.3,990.0 424.8,998.3 425.3,1002.8 425.8,1004.7 426.4,1004.8 426.9,1003.9 427.4,1002.3 427.9,1000.3 428.4,998.4 428.9,996.8 429.4,995.7 429.4,995.7 430.0,995.0 430.5,994.0 431.0,991.3 431.5,985.5 432.0,975.1 432.5,959.5 433.0,939.4 433.5,916.5 434.1,893.9 434.6,874.5 435.1,860.6 435.6,852.9 436.1,850.6 436.2,850.6 436.6,851.3 437.1,856.2 437.6,867.2 438.2,884.3 438.7,905.9 439.2,929.5 439.7,952.0 440.2,971.2 440.7,985.7 441.2,995.5 441.8,1001.5 442.3,1004.7 442.8,1006.3 443.3,1006.9 443.8,1006.8 444.3,1006.3 444.8,1005.4 445.3,1004.5 445.9,1003.9 446.2,1003.9 446.4,1004.0 446.9,1004.7 447.4,1005.8 447.9,1007.1 448.4,1008.3 448.9,1009.1 449.5,1009.4 450.0,1009.2 450.5,1008.1 451.0,1005.2 451.5,999.4 452.0,990.0 452.5,977.1 453.0,962.4 453.6,948.5 454.1,938.3 454.6,932.8 455.1,931.6 455.1,931.6 455.6,932.8 456.1,938.1 456.6,948.3 457.2,962.0 457.7,976.6 458.2,989.4 458.7,998.7 459.2,1004.2 459.7,1006.9 460.2,1007.6 460.7,1007.3 461.3,1006.3 461.8,1004.8 462.3,1002.9 462.8,1001.0 463.3,999.3 463.8,998.3 463.9,998.2 464.3,998.1 464.8,998.4 465.4,998.3 465.9,996.7 466.4,991.9 466.9,982.4 467.4,967.5 467.9,947.7 468.4,925.2 469.0,903.3 469.5,885.4 470.0,873.6 470.5,868.2 470.9,867.5 471.0,867.5 471.5,870.1 472.0,878.5 472.5,893.5 473.1,913.8 473.6,936.5 474.1,958.3 474.6,976.3 475.1,989.2 475.6,997.1 476.1,1001.0 476.7,1001.9 477.2,1000.7 477.7,998.1 478.2,995.1 478.7,992.4 479.2,991.1 479.3,991.1 479.7,991.6 480.2,993.8 480.8,996.8 481.3,999.8 481.8,1001.7 482.3,1001.9 482.8,999.7 483.3,994.3 483.8,984.8 484.3,970.9 484.9,953.1 485.4,933.2 485.9,913.7 486.4,897.4 486.9,886.2 487.4,880.5 487.9,879.2 487.9,879.2 488.5,880.5 489.0,886.1 489.5,897.3 490.0,913.5 490.5,932.9 491.0,952.8 491.5,970.6 492.0,984.6 492.6,994.3 493.1,1000.3 493.6,1003.5 494.1,1005.1 494.6,1005.7 495.0,1006.0 495.1,1006.0 495.6,1006.1 496.2,1006.1 496.7,1006.0 497.2,1005.7 497.7,1005.0 498.2,1003.5 498.7,1000.6 499.2,995.3 499.7,986.8 500.3,974.4 500.8,958.3 501.3,939.4 501.8,919.6 502.3,901.2 502.8,886.4 503.3,876.4 503.9,871.4 504.4,870.3 504.4,870.3 504.9,871.4 505.4,876.4 505.9,886.4 506.4,901.3 506.9,919.7 507.4,939.4 508.0,958.2 508.5,973.9 509.0,985.5 509.5,992.5 510.0,995.3 510.5,995.0 511.0,992.8 511.5,990.5 512.1,989.3 512.2,989.3 512.6,990.1 513.1,992.7 513.6,996.3 514.1,1000.0 514.6,1003.0 515.1,1004.9 515.7,1005.4 516.2,1004.2 516.7,1000.4 517.2,992.7 517.7,980.5 518.2,964.5 518.7,946.9 519.2,931.4 519.8,920.6 520.3,915.7 520.7,915.0 520.8,915.1 521.3,917.6 521.8,925.6 522.3,939.1 522.8,956.2 523.4,973.6 523.9,988.1 524.4,998.1 524.9,1004.0 525.4,1006.7 525.9,1007.6 526.4,1007.5 526.9,1007.0 527.5,1006.2 528.0,1005.3 528.5,1004.6 529.0,1004.1 529.1,1004.1 529.5,1003.9 530.0,1003.7 530.5,1002.7 531.1,999.9 531.6,993.9 532.1,983.8 532.6,969.7 533.1,952.9 533.6,935.9 534.1,921.7 534.1,921.7 534.6,912.2 535.2,908.0 535.5,907.4 535.7,907.4 536.2,909.6 536.7,916.5 537.2,928.6 537.7,944.7 538.2,962.2 538.7,978.3 539.3,991.1 539.8,999.8 540.3,1004.8 540.8,1007.1 541.3,1007.7 541.8,1007.1 542.3,1005.7 542.9,1003.9 543.4,1002.3 543.9,1001.3 544.1,1001.2 544.4,1001.4 544.9,1002.7 545.4,1004.6 545.9,1006.7 546.4,1008.3 547.0,1009.2 547.5,1008.9 548.0,1006.7 548.5,1001.9 549.0,994.3 549.5,984.5 550.0,974.3 550.6,966.0 551.1,961.1 551.6,959.6 551.7,959.6 552.1,960.0 552.6,963.2 553.1,970.0 553.6,979.6 554.1,990.0 554.7,999.0 555.2,1005.5 555.7,1009.2 556.2,1011.1 556.7,1011.9 557.2,1012.2 557.7,1012.3 558.3,1012.3 558.8,1012.4 559.3,1012.4 559.8,1012.3 560.3,1012.2 560.8,1012.1 561.3,1011.7 561.8,1010.7 562.4,1008.5 562.9,1004.4 563.4,997.6 563.9,988.4 564.4,977.9 564.9,968.0 565.4,960.7 565.9,956.9 566.5,956.0 566.5,956.0 567.0,956.9 567.5,960.7 568.0,968.1 568.5,977.9 569.0,988.5 569.5,997.7 570.1,1004.5 570.1,1004.5 570.6,1008.6 571.1,1010.6 571.6,1011.4 572.1,1011.3 572.6,1010.8 573.1,1010.0 573.6,1009.1 574.2,1008.2 574.7,1007.7 575.1,1007.6 575.2,1007.7 575.7,1008.2 576.2,1009.1 576.7,1010.2 577.2,1011.3 577.8,1012.0 578.3,1012.3 578.8,1012.0 579.3,1010.8 579.8,1008.6 580.3,1005.3 580.8,1001.3 581.3,997.3 581.9,994.3 582.4,993.2 582.4,993.2 582.9,994.4 583.4,997.4 583.9,1001.4 584.4,1005.4 584.9,1008.7 585.5,1011.0 586.0,1012.2 586.5,1012.5 587.0,1012.3 587.5,1011.7 588.0,1011.1 588.5,1010.7 588.8,1010.7 589.0,1010.7 589.6,1011.2 590.1,1011.9 590.6,1012.7 591.1,1013.3 591.6,1013.6 592.1,1013.6 592.6,1013.2 593.1,1012.2 593.7,1010.6 594.2,1008.4 594.7,1005.8 595.2,1003.1 595.7,1000.9 596.2,999.9 596.4,999.8 596.7,1000.2 597.3,1001.7 597.8,1004.0 598.3,1006.4 598.8,1008.3 599.3,1009.4 599.8,1009.7 600.3,1009.4 600.8,1008.6 601.4,1007.7 601.9,1007.2 602.3,1007.1 602.4,1007.1 602.9,1007.6 603.4,1008.6 603.9,1009.8 604.4,1011.1 605.0,1012.2 605.5,1013.1 606.0,1013.8 606.5,1014.2 607.0,1014.4 607.5,1014.5 608.0,1014.4 608.5,1014.2 609.1,1013.8 609.6,1013.1 610.1,1012.2 610.6,1011.1 611.1,1009.9 611.6,1008.9 612.1,1008.1 612.6,1007.8 612.6,1007.8 613.2,1008.1 613.7,1008.9 614.2,1009.9 614.7,1011.1 615.2,1012.2 615.7,1013.0 616.2,1013.6 616.8,1013.8 617.3,1013.8 617.8,1013.6 618.3,1013.3 618.8,1013.0 619.3,1012.7 619.8,1012.5 620.1,1012.5 620.3,1012.5 620.9,1012.6 621.4,1012.9 621.9,1013.2 622.4,1013.5 622.9,1013.6 623.4,1013.5 623.9,1013.2 624.5,1012.5 625.0,1011.6 625.5,1010.5 626.0,1009.4 626.5,1008.3 627.0,1007.5 627.5,1007.1 627.7,1007.1 628.0,1007.3 628.6,1007.9 629.1,1008.8 629.6,1010.0 630.1,1011.2 630.6,1012.2 631.1,1013.1 631.6,1013.7 632.2,1014.2 632.7,1014.4 633.2,1014.6 633.7,1014.6 634.2,1014.6 634.7,1014.4 635.2,1014.1 635.7,1013.6 636.3,1012.9 636.8,1011.9 637.3,1010.9 637.8,1010.0 638.3,1009.2 638.8,1008.9 639.0,1008.9 639.3,1009.0 639.8,1009.6 640.4,1010.5 640.9,1011.5 641.4,1012.4 641.9,1013.3 642.4,1013.8 642.9,1014.2 643.4,1014.3 644.0,1014.3 644.5,1014.1 645.0,1013.8 645.5,1013.4 646.0,1013.1 646.5,1012.9 647.0,1012.8 647.0,1012.8 647.5,1012.9 648.1,1013.1 648.6,1013.4 649.1,1013.8 649.6,1014.0 649.6,1014.0 650.1,1014.2 650.6,1014.2 651.1,1014.0 651.7,1013.8 652.2,1013.3 652.7,1012.9 653.2,1012.4 653.7,1011.9 654.2,1011.7 654.7,1011.6 654.7,1011.6 655.2,1011.7 655.8,1012.0 656.3,1012.4 656.8,1012.9 657.3,1013.4 657.8,1013.9 658.3,1014.2 658.8,1014.5 659.4,1014.7 659.9,1014.8 660.4,1014.8 660.9,1014.8 661.4,1014.7 661.9,1014.6 662.4,1014.5 662.9,1014.4 663.5,1014.2 664.0,1014.0 664.5,1013.8 665.0,1013.7 665.5,1013.6 666.0,1013.5 666.3,1013.5 666.5,1013.5 667.0,1013.6 667.6,1013.7 668.1,1013.8 668.6,1014.0 669.1,1014.2 669.6,1014.4 670.1,1014.5 670.6,1014.6 671.2,1014.7 671.7,1014.8 672.2,1014.8 672.7,1014.8 673.2,1014.7 673.7,1014.6 674.2,1014.4 674.7,1014.3 675.3,1014.1 675.8,1013.9 676.3,1013.8 676.8,1013.6 677.3,1013.5 677.8,1013.5 677.8,1013.5 678.3,1013.6 678.9,1013.6 679.4,1013.8 679.9,1013.9 680.4,1014.1 680.9,1014.3 681.4,1014.5 681.9,1014.7 682.4,1014.8 683.0,1014.9 683.5,1015.0 684.0,1015.1 684.5,1015.1 685.0,1015.2 685.5,1015.2 686.0,1015.2 686.6,1015.2 687.1,1015.2 687.6,1015.2 688.1,1015.3 688.6,1015.3 689.1,1015.3 689.6,1015.3 690.1,1015.3 690.7,1015.3 691.2,1015.3" fill="none" stroke="#f00" stroke-width="1.25" stroke-linejoin="round"/>
<polyline points="85.1,1015.3 85.6,1015.3 86.1,1015.3 86.6,1015.3 87.1,1015.3 87.6,1015.3 88.2,1015.3 88.7,1015.3 89.2,1015.3 89.7,1015.3 90.2,1015.3 90.7,1015.3 91.2,1015.3 91.8,1015.3 92.3,1015.3 92.8,1015.3 93.3,1015.3 93.8,1015.3 94.3,1015.3 94.8,1015.3 95.3,1015.3 95.9,1015.3 96.4,1015.3 96.9,1015.3 97.4,1015.3 97.9,1015.3 98.4,1015.3 98.9,1015.2 99.4,1015.2 100.0,1015.2 100.5,1015.1 101.0,1014.8 101.5,1014.3 102.0,1013.6 102.5,1012.9 103.0,1012.5 103.2,1012.5 103.6,1012.6 104.1,1013.2 104.6,1014.0 105.1,1014.6 105.6,1015.0 106.1,1015.1 106.6,1015.2 107.1,1015.2 107.7,1015.2 108.2,1015.3 108.7,1015.3 109.2,1015.3 109.7,1015.3 110.2,1015.3 110.7,1015.3 111.3,1015.3 111.8,1015.3 112.3,1015.3 112.8,1015.3 113.3,1015.3 113.8,1015.3 114.3,1015.3 114.8,1015.3 115.4,1015.3 115.9,1015.3 116.4,1015.3 116.9,1015.3 117.4,1015.3 117.9,1015.3 118.4,1015.3 119.0,1015.3 119.5,1015.3 120.0,1015.3 120.5,1015.3 121.0,1015.3 121.5,1015.3 122.0,1015.3 122.5,1015.3 123.1,1015.3 123.6,1015.3 124.1,1015.3 124.6,1015.3 125.1,1015.3 125.6,1015.3 126.1,1015.3 126.6,1015.3 127.2,1015.3 127.7,1015.3 128.2,1015.3 128.7,1015.3 129.2,1015.3 129.7,1015.3 130.2,1015.3 130.8,1015.3 131.3,1015.3 131.8,1015.3 132.3,1015.3 132.8,1015.3 133.3,1015.3 133.8,1015.3 134.3,1015.3 134.9,1015.3 135.4,1015.3 135.9,1015.3 136.4,1015.3 136.9,1015.3 137.4,1015.3 137.9,1015.3 138.5,1015.3 139.0,1015.3 139.5,1015.3 140.0,1015.3 140.5,1015.3 141.0,1015.3 141.5,1015.3 142.0,1015.3 142.6,1015.3 143.1,1015.3 143.6,1015.3 144.1,1015.3 144.6,1015.3 145.1,1015.3 145.6,1015.3 146.2,1015.3 146.7,1015.3 147.2,1015.3 147.7,1015.3 148.2,1015.3 148.7,1015.3 149.2,1015.3 149.7,1015.3 150.3,1015.3 150.8,1015.3 151.3,1015.3 151.8,1015.3 152.3,1015.3 152.8,1015.3 153.3,1015.3 153.8,1015.3 154.4,1015.3 154.9,1015.3 155.4,1015.3 155.9,1015.3 156.4,1015.3 156.9,1015.3 157.4,1015.3 158.0,1015.3 158.5,1015.3 159.0,1015.3 159.5,1015.3 160.0,1015.3 160.5,1015.3 161.0,1015.3 161.5,1015.3 162.1,1015.3 162.6,1015.3 163.1,1015.3 163.6,1015.3 164.1,1015.3 164.6,1015.3 165.1,1015.3 165.7,1015.3 166.2,1015.3 166.7,1015.3 167.2,1015.3 167.7,1015.3 168.2,1015.3 168.7,1015.3 169.2,1015.3 169.8,1015.3 170.3,1015.3 170.8,1015.3 171.3,1015.3 171.8,1015.3 172.3,1015.3 172.8,1015.3 173.4,1015.3 173.9,1015.3 174.4,1015.3 174.9,1015.3 175.4,1015.3 175.9,1015.3 176.4,1015.3 176.9,1015.3 177.5,1015.3 178.0,1015.3 178.5,1015.3 179.0,1015.3 179.5,1015.3 180.0,1015.3 180.5,1015.3 181.0,1015.3 181.6,1015.3 182.1,1015.3 182.6,1015.3 183.1,1015.3 183.6,1015.3 184.1,1015.3 184.6,1015.3 185.2,1015.3 185.7,1015.3 186.2,1015.3 186.7,1015.3 187.2,1015.3 187.7,1015.3 188.2,1015.3 188.7,1015.3 189.3,1015.3 189.8,1015.3 190.3,1015.3 190.8,1015.3 191.3,1015.3 191.8,1015.3 192.3,1015.3 192.9,1015.3 193.4,1015.3 193.9,1015.3 194.4,1015.3 194.9,1015.3 195.4,1015.3 195.9,1015.3 196.4,1015.3 197.0,1015.3 197.5,1015.3 198.0,1015.3 198.5,1015.3 199.0,1015.3 199.5,1015.3 200.0,1015.3 200.6,1015.3 201.1,1015.3 201.6,1015.3 202.1,1015.3 202.6,1015.3 203.1,1015.3 203.6,1015.3 204.1,1015.3 204.7,1015.3 205.2,1015.3 205.7,1015.3 206.2,1015.3 206.7,1015.3 207.2,1015.3 207.7,1015.3 208.2,1015.3 208.8,1015.3 209.3,1015.3 209.8,1015.3 210.3,1015.3 210.8,1015.3 211.3,1015.3 211.8,1015.3 212.4,1015.3 212.9,1015.3 213.4,1015.3 213.9,1015.3 214.4,1015.3 214.9,1015.3 215.4,1015.3 215.9,1015.3 216.5,1015.3 217.0,1015.3 217.5,1015.3 218.0,1015.3 218.5,1015.3 219.0,1015.3 219.5,1015.3 220.1,1015.3 220.6,1015.3 221.1,1015.3 221.6,1015.3 222.1,1015.3 222.6,1015.3 223.1,1015.3 223.6,1015.3 224.2,1015.3 224.7,1015.3 225.2,1015.3 225.7,1015.3 226.2,1015.3 226.7,1015.3 227.2,1015.3 227.7,1015.3 228.3,1015.3 228.8,1015.3 229.3,1015.3 229.8,1015.3 230.3,1015.3 230.8,1015.3 231.3,1015.3 231.9,1015.3 232.4,1015.3 232.9,1015.3 233.4,1015.3 233.9,1015.3 234.4,1015.3 234.9,1015.3 235.4,1015.3 236.0,1015.3 236.5,1015.3 237.0,1015.3 237.5,1015.3 238.0,1015.3 238.5,1015.3 239.0,1015.3 239.6,1015.2 240.1,1015.2 240.6,1015.2 241.1,1015.2 241.6,1015.2 242.1,1015.2 242.6,1015.2 243.1,1015.2 243.7,1015.1 244.2,1015.1 244.7,1015.1 245.2,1015.1 245.7,1015.0 246.2,1015.0 246.7,1015.0 247.3,1015.0 247.8,1014.9 248.3,1014.9 248.8,1014.9 249.3,1014.8 249.8,1014.8 250.3,1014.8 250.8,1014.7 251.4,1014.7 251.9,1014.7 252.4,1014.6 252.9,1014.6 253.4,1014.6 253.9,1014.5 254.4,1014.5 254.9,1014.5 255.5,1014.5 256.0,1014.5 256.5,1014.4 257.0,1014.4 257.5,1014.4 258.0,1014.4 258.3,1014.4 258.5,1014.4 259.1,1014.4 259.6,1014.4 260.1,1014.4 260.6,1014.4 261.1,1014.4 261.6,1014.4 262.1,1014.5 262.6,1014.5 263.2,1014.5 263.7,1014.5 264.2,1014.5 264.7,1014.5 265.2,1014.5 265.7,1014.5 266.2,1014.5 266.8,1014.5 267.3,1014.4 267.8,1014.4 268.3,1014.4 268.8,1014.3 269.3,1014.3 269.8,1014.2 270.3,1014.2 270.9,1014.1 271.4,1014.1 271.9,1014.0 272.4,1013.9 272.9,1013.9 273.4,1013.8 273.9,1013.7 274.5,1013.7 275.0,1013.6 275.5,1013.6 276.0,1013.6 276.5,1013.5 277.0,1013.5 277.5,1013.5 277.5,1013.5 278.0,1013.5 278.6,1013.5 279.1,1013.6 279.6,1013.6 280.1,1013.6 280.6,1013.7 281.1,1013.7 281.6,1013.8 282.1,1013.8 282.7,1013.8 283.2,1013.9 283.7,1013.9 284.2,1013.9 284.7,1013.9 285.2,1013.8 285.7,1013.8 286.3,1013.7 286.8,1013.7 287.3,1013.6 287.8,1013.5 288.3,1013.5 288.8,1013.4 289.3,1013.3 289.8,1013.2 290.4,1013.2 290.4,1013.2 290.9,1013.1 291.4,1012.9 291.9,1012.8 292.4,1012.5 292.9,1012.1 293.4,1011.5 294.0,1010.9 294.5,1010.0 295.0,1009.1 295.5,1008.1 296.0,1007.1 296.5,1006.0 296.8,1005.5 297.0,1005.0 297.5,1003.9 298.1,1002.6 298.6,1001.1 299.1,999.5 299.6,997.6 300.1,995.7 300.6,993.9 301.1,992.4 301.7,991.5 302.2,991.3 302.2,991.3 302.7,991.8 303.2,993.1 303.7,995.0 304.2,997.4 304.7,1000.0 305.2,1002.6 305.8,1005.1 305.8,1005.1 306.3,1007.2 306.8,1009.0 307.3,1010.3 307.8,1011.2 308.3,1011.6 308.8,1011.5 309.3,1010.9 309.9,1009.8 310.4,1008.5 310.9,1007.3 311.4,1006.6 311.8,1006.4 311.9,1006.4 312.4,1007.1 312.9,1008.2 313.5,1009.7 314.0,1011.2 314.5,1012.4 315.0,1013.2 315.5,1013.7 316.0,1013.7 316.5,1013.4 317.0,1012.7 317.6,1011.7 318.1,1010.6 318.6,1009.8 319.0,1009.6 319.1,1009.6 319.6,1009.9 320.1,1010.5 320.6,1011.1 321.2,1011.2 321.7,1010.8 322.2,1010.2 322.7,1009.7 322.9,1009.6 323.2,1009.6 323.7,1009.9 324.2,1010.3 324.7,1010.6 325.3,1010.5 325.8,1010.0 326.3,1009.2 326.8,1008.6 327.1,1008.4 327.3,1008.2 327.8,1008.3 328.3,1008.6 328.9,1008.8 329.4,1008.9 329.9,1008.5 330.4,1007.5 330.9,1005.2 331.4,1000.6 331.9,992.5 332.4,979.9 333.0,962.5 333.5,941.8 334.0,920.1 334.5,900.7 335.0,886.4 335.5,878.4 336.0,875.9 336.2,875.8 336.5,876.6 337.1,881.6 337.6,892.9 338.1,910.0 338.6,930.9 339.1,952.5 339.6,971.8 340.1,986.8 340.7,997.1 341.2,1003.3 341.3,1004.3 341.7,1006.7 342.2,1008.4 342.7,1009.3 343.2,1009.9 343.7,1010.4 344.2,1010.8 344.8,1011.1 345.3,1011.4 345.8,1011.7 346.3,1011.9 346.8,1012.0 347.3,1011.9 347.8,1011.5 348.4,1010.6 348.9,1009.1 349.4,1006.7 349.9,1003.4 350.4,999.3 350.9,994.9 351.4,990.9 351.9,988.0 352.5,987.0 352.5,987.0 353.0,988.0 353.5,990.7 354.0,994.7 354.5,999.0 355.0,1003.0 355.5,1006.3 356.0,1008.6 356.6,1010.1 357.1,1010.9 357.6,1011.2 358.1,1011.2 358.6,1011.1 359.1,1010.8 359.6,1010.5 360.2,1010.2 360.7,1009.8 361.2,1009.2 361.7,1008.3 362.2,1006.7 362.7,1003.6 363.2,998.0 363.7,988.9 364.3,975.4 364.8,957.8 365.3,937.5 365.8,917.0 366.3,899.2 366.8,886.2 367.3,879.0 367.9,876.8 368.0,876.7 368.4,877.4 368.9,881.9 369.4,892.0 369.9,907.6 370.4,927.1 370.9,947.8 371.4,967.0 372.0,982.7 372.3,991.5 372.5,994.0 373.0,1001.2 373.5,1005.4 374.0,1007.7 374.5,1008.9 375.0,1009.5 375.6,1010.0 376.1,1010.4 376.6,1010.7 377.1,1011.0 377.6,1011.3 378.1,1011.5 378.6,1011.7 379.1,1011.8 379.7,1011.9 380.2,1012.0 380.7,1012.0 381.2,1011.8 381.7,1011.2 382.2,1009.8 382.7,1007.0 383.2,1002.0 383.8,995.0 384.3,986.5 384.8,978.1 385.3,971.5 385.8,967.6 386.3,966.4 386.5,966.3 386.8,966.6 387.4,969.0 387.9,974.2 388.4,981.8 388.9,990.3 389.4,998.1 389.9,1004.0 390.4,1007.7 390.9,1009.6 391.5,1010.3 392.0,1010.5 392.5,1010.4 393.0,1010.1 393.5,1009.9 394.0,1009.5 394.5,1009.2 395.1,1008.7 395.6,1008.3 396.1,1007.7 396.6,1006.8 397.1,1005.3 397.6,1002.5 398.1,997.1 398.6,987.8 399.2,973.3 399.7,953.2 400.2,928.5 400.7,901.9 401.2,876.9 401.7,856.9 402.2,843.8 402.8,838.0 403.1,837.2 403.3,837.3 403.8,840.1 404.3,849.4 404.8,866.0 405.3,888.9 405.8,915.2 406.3,941.2 406.9,963.8 407.4,981.1 407.9,992.8 408.4,999.9 408.9,1003.8 409.4,1005.8 409.9,1006.8 410.4,1007.4 411.0,1007.8 411.5,1008.2 412.0,1008.4 412.5,1008.6 413.0,1008.8 413.5,1008.8 413.5,1008.8 414.0,1008.9 414.6,1008.8 415.1,1008.5 415.6,1007.8 416.1,1005.9 416.6,1001.9 417.1,994.6 417.6,983.1 418.1,967.7 418.7,950.2 419.2,933.6 419.7,920.8 420.2,913.4 420.7,911.0 420.8,910.9 421.2,911.5 421.7,916.0 422.3,926.0 422.8,940.8 423.3,958.1 423.8,974.6 424.3,987.9 424.8,997.0 425.3,1002.0 425.8,1004.2 426.4,1004.4 426.9,1003.6 427.4,1002.0 427.9,1000.2 428.4,998.3 428.9,996.7 429.4,995.7 429.4,995.7 430.0,995.0 430.5,994.0 431.0,991.4 431.5,985.5 432.0,975.1 432.5,959.5 433.0,939.3 433.5,916.5 434.1,893.9 434.6,874.5 435.1,860.6 435.6,852.9 436.1,850.6 436.2,850.6 436.6,851.3 437.1,856.2 437.6,867.2 438.2,884.3 438.7,905.9 439.2,929.5 439.7,952.0 440.2,971.2 440.7,985.7 441.2,995.5 441.8,1001.4 442.3,1004.7 442.8,1006.3 443.3,1006.9 443.8,1006.8 444.3,1006.2 444.8,1005.4 445.3,1004.5 445.9,1004.0 446.2,1003.9 446.4,1004.0 446.9,1004.6 447.4,1005.7 447.9,1006.9 448.4,1008.0 448.9,1008.7 449.5,1009.0 450.0,1008.7 450.5,1007.4 451.0,1004.1 451.5,997.7 452.0,987.1 452.5,972.7 453.0,956.2 453.6,940.7 454.1,929.3 454.6,923.2 455.1,921.8 455.1,921.8 455.6,923.1 456.1,929.1 456.6,940.5 457.2,955.8 457.7,972.2 458.2,986.5 458.7,997.0 459.2,1003.2 459.7,1006.2 460.2,1007.2 460.7,1007.0 461.3,1006.1 461.8,1004.6 462.3,1002.8 462.8,1000.8 463.3,999.3 463.8,998.3 463.9,998.2 464.3,998.1 464.8,998.5 465.4,998.5 465.9,997.0 466.4,992.4 466.9,983.3 467.4,968.9 467.9,949.8 468.4,928.1 469.0,907.0 469.5,889.6 470.0,878.2 470.5,873.0 470.9,872.3 471.0,872.3 471.5,874.8 472.0,883.0 472.5,897.5 473.1,917.1 473.6,939.0 474.1,960.0 474.6,977.4 475.1,989.9 475.6,997.4 476.1,1000.9 476.7,1001.3 477.2,999.5 477.7,996.1 478.2,992.1 478.7,988.7 479.2,987.0 479.3,987.0 479.7,987.7 480.2,990.5 480.8,994.4 481.3,998.3 481.8,1001.1 482.3,1002.0 482.8,1000.4 483.3,995.7 483.8,987.2 484.3,974.5 484.9,958.4 485.4,940.2 485.9,922.6 486.4,907.7 486.9,897.5 487.4,892.3 487.9,891.2 487.9,891.2 488.5,892.3 489.0,897.4 489.5,907.6 490.0,922.5 490.5,940.2 491.0,958.3 491.5,974.5 492.0,987.3 492.6,996.2 493.1,1001.6 493.6,1004.5 494.1,1006.0 494.6,1006.6 495.0,1006.8 495.1,1006.8 495.6,1006.9 496.2,1006.9 496.7,1006.8 497.2,1006.5 497.7,1005.9 498.2,1004.6 498.7,1001.9 499.2,997.1 499.7,989.3 500.3,978.0 500.8,963.3 501.3,946.1 501.8,928.1 502.3,911.3 502.8,897.8 503.3,888.7 503.9,884.1 504.4,883.1 504.4,883.1 504.9,884.2 505.4,888.7 505.9,897.8 506.4,911.4 506.9,928.1 507.4,946.1 508.0,963.1 508.5,977.4 509.0,987.9 509.5,994.0 510.0,996.3 510.5,995.5 511.0,993.1 511.5,990.6 512.1,989.3 512.2,989.3 512.6,990.1 513.1,992.8 513.6,996.6 514.1,1000.5 514.6,1003.6 515.1,1005.6 515.7,1006.3 516.2,1005.4 516.7,1002.2 517.2,995.6 517.7,985.1 518.2,971.2 518.7,956.1 519.2,942.7 519.8,933.4 520.3,929.1 520.7,928.6 520.8,928.6 521.3,930.8 521.8,937.7 522.3,949.4 522.8,964.2 523.4,979.1 523.9,991.6 524.4,1000.3 524.9,1005.3 525.4,1007.6 525.9,1008.3 526.4,1008.1 526.9,1007.4 527.5,1006.5 528.0,1005.5 528.5,1004.7 529.0,1004.1 529.1,1004.1 529.5,1004.0 530.0,1003.9 530.5,1003.2 531.1,1000.8 531.6,995.5 532.1,986.5 532.6,973.8 533.1,958.6 533.6,943.2 534.1,930.3 534.1,930.3 534.6,921.8 535.2,917.9 535.5,917.3 535.7,917.4 536.2,919.3 536.7,925.6 537.2,936.6 537.7,951.2 538.2,967.1 538.7,981.7 539.3,993.3 539.8,1001.2 540.3,1005.7 540.8,1007.8 541.3,1008.2 541.8,1007.5 542.3,1006.0 542.9,1004.1 543.4,1002.3 543.9,1001.3 544.1,1001.2 544.4,1001.5 544.9,1002.7 545.4,1004.8 545.9,1006.9 546.4,1008.7 547.0,1009.7 547.5,1009.6 548.0,1007.8 548.5,1003.9 549.0,997.5 549.5,989.2 550.0,980.7 550.6,973.7 551.1,969.6 551.6,968.3 551.7,968.3 552.1,968.7 552.6,971.4 553.1,977.1 553.6,985.2 554.1,993.9 554.7,1001.6 555.2,1007.0 555.7,1010.2 556.2,1011.7 556.7,1012.4 557.2,1012.6 557.7,1012.7 558.3,1012.7 558.8,1012.7 559.3,1012.7 559.8,1012.7 560.3,1012.6 560.8,1012.4 561.3,1012.0 561.8,1011.2 562.4,1009.2 562.9,1005.4 563.4,999.3 563.9,990.9 564.4,981.4 564.9,972.4 565.4,965.8 565.9,962.3 566.5,961.5 566.5,961.5 567.0,962.3 567.5,965.8 568.0,972.4 568.5,981.4 569.0,990.9 569.5,999.3 570.1,1005.4 570.1,1005.4 570.6,1009.2 571.1,1011.0 571.6,1011.6 572.1,1011.5 572.6,1011.0 573.1,1010.1 573.6,1009.2 574.2,1008.3 574.7,1007.7 575.1,1007.6 575.2,1007.7 575.7,1008.2 576.2,1009.2 576.7,1010.3 577.2,1011.4 577.8,1012.2 578.3,1012.6 578.8,1012.5 579.3,1011.6 579.8,1009.8 580.3,1007.3 580.8,1004.1 581.3,1000.9 581.9,998.5 582.4,997.7 582.4,997.7 582.9,998.6 583.4,1001.0 583.9,1004.2 584.4,1007.4 584.9,1010.0 585.5,1011.7 586.0,1012.6 586.5,1012.8 587.0,1012.4 587.5,1011.8 588.0,1011.1 588.5,1010.7 588.8,1010.7 589.0,1010.7 589.6,1011.2 590.1,1011.9 590.6,1012.7 591.1,1013.3 591.6,1013.7 592.1,1013.6 592.6,1013.2 593.1,1012.2 593.7,1010.6 594.2,1008.4 594.7,1005.8 595.2,1003.1 595.7,1000.9 596.2,999.9 596.4,999.8 596.7,1000.2 597.3,1001.7 597.8,1004.0 598.3,1006.4 598.8,1008.3 599.3,1009.4 599.8,1009.7 600.3,1009.3 600.8,1008.6 601.4,1007.7 601.9,1007.2 602.3,1007.1 602.4,1007.1 602.9,1007.6 603.4,1008.6 603.9,1009.8 604.4,1011.1 605.0,1012.3 605.5,1013.2 606.0,1013.8 606.5,1014.2 607.0,1014.5 607.5,1014.6 608.0,1014.5 608.5,1014.3 609.1,1014.0 609.6,1013.5 610.1,1012.8 610.6,1011.9 611.1,1010.9 611.6,1010.1 612.1,1009.5 612.6,1009.2 612.6,1009.2 613.2,1009.5 613.7,1010.1 614.2,1010.9 614.7,1011.9 615.2,1012.7 615.7,1013.4 616.2,1013.8 616.8,1014.0 617.3,1013.9 617.8,1013.7 618.3,1013.3 618.8,1013.0 619.3,1012.7 619.8,1012.5 620.1,1012.5 620.3,1012.5 620.9,1012.6 621.4,1012.9 621.9,1013.3 622.4,1013.6 622.9,1013.7 623.4,1013.7 623.9,1013.4 624.5,1012.9 625.0,1012.2 625.5,1011.2 626.0,1010.3 626.5,1009.3 627.0,1008.7 627.5,1008.4 627.7,1008.4 628.0,1008.5 628.6,1009.0 629.1,1009.8 629.6,1010.8 630.1,1011.8 630.6,1012.7 631.1,1013.4 631.6,1014.0 632.2,1014.3 632.7,1014.6 633.2,1014.7 633.7,1014.7 634.2,1014.7 634.7,1014.5 635.2,1014.3 635.7,1013.9 636.3,1013.3 636.8,1012.5 637.3,1011.7 637.8,1010.9 638.3,1010.3 638.8,1010.0 639.0,1010.0 639.3,1010.1 639.8,1010.5 640.4,1011.3 640.9,1012.1 641.4,1012.9 641.9,1013.6 642.4,1014.0 642.9,1014.3 643.4,1014.4 644.0,1014.3 644.5,1014.1 645.0,1013.8 645.5,1013.4 646.0,1013.1 646.5,1012.9 647.0,1012.8 647.0,1012.8 647.5,1012.9 648.1,1013.1 648.6,1013.4 649.1,1013.8 649.6,1014.0 649.6,1014.0 650.1,1014.2 650.6,1014.2 651.1,1014.0 651.7,1013.8 652.2,1013.3 652.7,1012.9 653.2,1012.4 653.7,1011.9 654.2,1011.7 654.7,1011.6 654.7,1011.6 655.2,1011.7 655.8,1012.0 656.3,1012.4 656.8,1012.9 657.3,1013.4 657.8,1013.9 658.3,1014.2 658.8,1014.5 659.4,1014.7 659.9,1014.8 660.4,1014.8 660.9,1014.8 661.4,1014.7 661.9,1014.6 662.4,1014.5 662.9,1014.4 663.5,1014.2 664.0,1014.0 664.5,1013.8 665.0,1013.7 665.5,1013.6 666.0,1013.5 666.3,1013.5 666.5,1013.5 667.0,1013.6 667.6,1013.7 668.1,1013.8 668.6,1014.0 669.1,1014.2 669.6,1014.4 670.1,1014.5 670.6,1014.6 671.2,1014.7 671.7,1014.8 672.2,1014.8 672.7,1014.8 673.2,1014.7 673.7,1014.6 674.2,1014.4 674.7,1014.3 675.3,1014.1 675.8,1013.9 676.3,1013.8 676.8,1013.6 677.3,1013.5 677.8,1013.5 677.8,1013.5 678.3,1013.6 678.9,1013.6 679.4,1013.8 679.9,1013.9 680.4,1014.1 680.9,1014.3 681.4,1014.5 681.9,1014.7 682.4,1014.8 683.0,1014.9 683.5,1015.0 684.0,1015.1 684.5,1015.1 685.0,1015.2 685.5,1015.2 686.0,1015.2 686.6,1015.2 687.1,1015.2 687.6,1015.2 688.1,1015.3 688.6,1015.3 689.1,1015.3 689.6,1015.3 690.1,1015.3 690.7,1015.3 691.2,1015.3" fill="none" stroke="#000" stroke-width="1.15" stroke-linejoin="round"/>
<text x="286.05" y="978.1" font-size="13" text-anchor="start" fill="#111" >CE1</text>
<text transform="translate(322.6,1000.55) rotate(-90)" x="0" y="0" font-size="13" fill="#111">CE2</text>
<text x="323.15" y="871.1" font-size="13" text-anchor="start" fill="#111" >CE3</text>
<text transform="translate(356,971.75) rotate(-90)" x="0" y="0" font-size="13" fill="#111">CE4</text>
<text x="358.05" y="866.8" font-size="13" text-anchor="start" fill="#111" >CE5</text>
<text transform="translate(391.4,940.05) rotate(-90)" x="0" y="0" font-size="13" fill="#111">CE6</text>
<text x="390.25" y="832.9" font-size="13" text-anchor="start" fill="#111" >CE7</text>
<text transform="translate(425.6,902.75) rotate(-90)" x="0" y="0" font-size="13" fill="#111">CE8</text>
<text x="424.45" y="842.3" font-size="13" text-anchor="start" fill="#111" >CE9</text>
<text transform="translate(460,912.55) rotate(-90)" x="0" y="0" font-size="13" fill="#111">CE10</text>
<text x="458.45" y="862.2" font-size="13" text-anchor="start" fill="#111" >CE11</text>
<text x="499.35" y="862.2" font-size="13" text-anchor="start" fill="#111" >CE13</text>
<text x="522.75" y="900.1" font-size="13" text-anchor="start" fill="#111" >CE15</text>
<text transform="translate(556.4,952.25) rotate(-90)" x="0" y="0" font-size="13" fill="#111">CE16</text>
<text x="570.05" y="953.8" font-size="13" text-anchor="start" fill="#111" >CE17</text>
<text x="572.15" y="980.9" font-size="13" text-anchor="start" fill="#111" >CE18</text>
<text x="593.75" y="993.3" font-size="13" text-anchor="start" fill="#111" >CE19</text>
<text x="693.18" y="882.9" font-size="26.3" font-style="italic" fill="#000" stroke="#000" stroke-width="0.3">e</text>
<line x1="692.5" y1="888.7" x2="707.3" y2="888.7" stroke="#000" stroke-width="2.0"/>
</svg>
</body></html>
